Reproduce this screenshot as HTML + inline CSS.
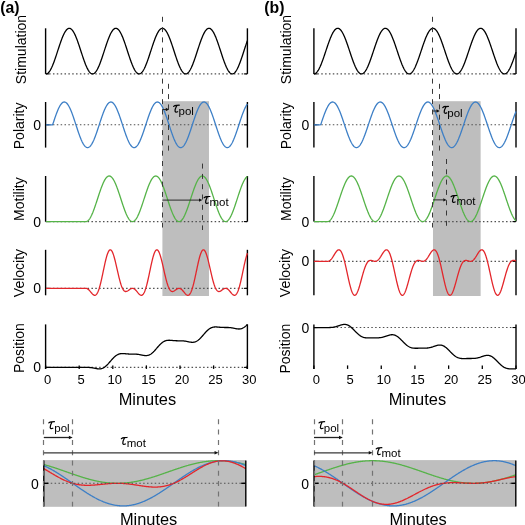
<!DOCTYPE html>
<html><head><meta charset="utf-8"><style>
html,body{margin:0;padding:0;background:#fff;}
svg{display:block;will-change:transform;}
text{font-family:"Liberation Sans", sans-serif;fill:#000;}
</style></head><body>
<svg width="525" height="525" viewBox="0 0 525 525">
<rect width="525" height="525" fill="#fff"/>
<rect x="162.41" y="101.2" width="46.56" height="194.8" fill="#bebebe"/>
<line x1="49.1" y1="73.9" x2="247.4" y2="73.9" stroke="#505050" stroke-width="1.1" stroke-dasharray="1.5 2.35"/>
<line x1="45.6" y1="28.3" x2="45.6" y2="73.9" stroke="#000" stroke-width="1.4" />
<line x1="247.4" y1="28.3" x2="247.4" y2="73.9" stroke="#000" stroke-width="1.4" />
<line x1="243.9" y1="73.9" x2="247.4" y2="73.9" stroke="#000" stroke-width="1.1" />
<line x1="45.6" y1="73.9" x2="49.1" y2="73.9" stroke="#000" stroke-width="1.1" />
<path d="M46 73.9 L46.4 73.87 L46.81 73.76 L47.21 73.6 L47.61 73.36 L48.02 73.06 L48.42 72.69 L48.83 72.26 L49.23 71.77 L49.63 71.22 L50.04 70.6 L50.44 69.93 L50.84 69.2 L51.25 68.42 L51.65 67.59 L52.05 66.71 L52.46 65.78 L52.86 64.81 L53.26 63.79 L53.67 62.74 L54.07 61.66 L54.48 60.54 L54.88 59.4 L55.28 58.23 L55.69 57.04 L56.09 55.84 L56.49 54.62 L56.9 53.38 L57.3 52.15 L57.7 50.9 L58.11 49.66 L58.51 48.43 L58.92 47.2 L59.32 45.98 L59.72 44.78 L60.13 43.6 L60.53 42.44 L60.93 41.3 L61.34 40.19 L61.74 39.12 L62.14 38.08 L62.55 37.08 L62.95 36.12 L63.36 35.21 L63.76 34.34 L64.16 33.53 L64.57 32.76 L64.97 32.05 L65.37 31.4 L65.78 30.8 L66.18 30.27 L66.58 29.79 L66.99 29.38 L67.39 29.04 L67.79 28.76 L68.2 28.54 L68.6 28.4 L69.01 28.32 L69.41 28.3 L69.81 28.36 L70.22 28.48 L70.62 28.67 L71.02 28.93 L71.43 29.25 L71.83 29.64 L72.23 30.09 L72.64 30.6 L73.04 31.17 L73.45 31.8 L73.85 32.49 L74.25 33.24 L74.66 34.04 L75.06 34.89 L75.46 35.78 L75.87 36.72 L76.27 37.71 L76.67 38.73 L77.08 39.79 L77.48 40.89 L77.88 42.01 L78.29 43.16 L78.69 44.34 L79.1 45.54 L79.5 46.75 L79.9 47.97 L80.31 49.21 L80.71 50.45 L81.11 51.69 L81.52 52.93 L81.92 54.16 L82.32 55.39 L82.73 56.6 L83.13 57.8 L83.54 58.97 L83.94 60.13 L84.34 61.25 L84.75 62.35 L85.15 63.41 L85.55 64.44 L85.96 65.42 L86.36 66.37 L86.76 67.27 L87.17 68.12 L87.57 68.92 L87.98 69.67 L88.38 70.36 L88.78 71 L89.19 71.57 L89.59 72.09 L89.99 72.54 L90.4 72.93 L90.8 73.26 L91.2 73.52 L91.61 73.71 L92.01 73.84 L92.41 73.9 L92.82 73.89 L93.22 73.81 L93.63 73.67 L94.03 73.46 L94.43 73.18 L94.84 72.84 L95.24 72.43 L95.64 71.96 L96.05 71.43 L96.45 70.84 L96.85 70.18 L97.26 69.48 L97.66 68.72 L98.07 67.9 L98.47 67.04 L98.87 66.13 L99.28 65.17 L99.68 64.17 L100.08 63.14 L100.49 62.06 L100.89 60.96 L101.29 59.83 L101.7 58.67 L102.1 57.49 L102.51 56.28 L102.91 55.07 L103.31 53.84 L103.72 52.6 L104.12 51.36 L104.52 50.12 L104.93 48.88 L105.33 47.65 L105.73 46.43 L106.14 45.22 L106.54 44.03 L106.94 42.86 L107.35 41.72 L107.75 40.6 L108.16 39.51 L108.56 38.46 L108.96 37.45 L109.37 36.47 L109.77 35.54 L110.17 34.66 L110.58 33.82 L110.98 33.04 L111.38 32.31 L111.79 31.63 L112.19 31.02 L112.6 30.46 L113 29.96 L113.4 29.53 L113.81 29.16 L114.21 28.85 L114.61 28.61 L115.02 28.44 L115.42 28.34 L115.82 28.3 L116.23 28.33 L116.63 28.43 L117.03 28.59 L117.44 28.82 L117.84 29.12 L118.25 29.48 L118.65 29.91 L119.05 30.4 L119.46 30.95 L119.86 31.56 L120.26 32.23 L120.67 32.96 L121.07 33.74 L121.47 34.57 L121.88 35.44 L122.28 36.37 L122.69 37.34 L123.09 38.35 L123.49 39.4 L123.9 40.48 L124.3 41.59 L124.7 42.74 L125.11 43.9 L125.51 45.09 L125.91 46.3 L126.32 47.52 L126.72 48.75 L127.13 49.99 L127.53 51.23 L127.93 52.47 L128.34 53.71 L128.74 54.94 L129.14 56.15 L129.55 57.36 L129.95 58.54 L130.35 59.7 L130.76 60.84 L131.16 61.95 L131.56 63.02 L131.97 64.06 L132.37 65.06 L132.78 66.02 L133.18 66.94 L133.58 67.81 L133.99 68.63 L134.39 69.4 L134.79 70.11 L135.2 70.77 L135.6 71.37 L136 71.9 L136.41 72.38 L136.81 72.8 L137.22 73.14 L137.62 73.43 L138.02 73.65 L138.43 73.8 L138.83 73.88 L139.23 73.9 L139.64 73.85 L140.04 73.73 L140.44 73.54 L140.85 73.29 L141.25 72.97 L141.65 72.59 L142.06 72.14 L142.46 71.63 L142.87 71.06 L143.27 70.43 L143.67 69.75 L144.08 69 L144.48 68.21 L144.88 67.36 L145.29 66.47 L145.69 65.53 L146.09 64.55 L146.5 63.52 L146.9 62.46 L147.31 61.37 L147.71 60.25 L148.11 59.1 L148.52 57.92 L148.92 56.73 L149.32 55.52 L149.73 54.3 L150.13 53.06 L150.53 51.82 L150.94 50.58 L151.34 49.34 L151.75 48.11 L152.15 46.88 L152.55 45.67 L152.96 44.47 L153.36 43.29 L153.76 42.14 L154.17 41.01 L154.57 39.91 L154.97 38.85 L155.38 37.82 L155.78 36.83 L156.18 35.88 L156.59 34.98 L156.99 34.13 L157.4 33.32 L157.8 32.57 L158.2 31.88 L158.61 31.24 L159.01 30.66 L159.41 30.14 L159.82 29.68 L160.22 29.29 L160.62 28.96 L161.03 28.7 L161.43 28.5 L161.84 28.37 L162.24 28.31 L162.64 28.31 L163.05 28.38 L163.45 28.52 L163.85 28.73 L164.26 29 L164.66 29.34 L165.06 29.75 L165.47 30.21 L165.87 30.74 L166.27 31.33 L166.68 31.98 L167.08 32.68 L167.49 33.44 L167.89 34.25 L168.29 35.11 L168.7 36.02 L169.1 36.98 L169.5 37.97 L169.91 39.01 L170.31 40.08 L170.71 41.18 L171.12 42.31 L171.52 43.47 L171.93 44.65 L172.33 45.85 L172.73 47.07 L173.14 48.29 L173.54 49.53 L173.94 50.77 L174.35 52.01 L174.75 53.25 L175.15 54.48 L175.56 55.7 L175.96 56.91 L176.37 58.1 L176.77 59.28 L177.17 60.42 L177.58 61.54 L177.98 62.63 L178.38 63.68 L178.79 64.7 L179.19 65.67 L179.59 66.61 L180 67.49 L180.4 68.33 L180.8 69.12 L181.21 69.85 L181.61 70.53 L182.02 71.15 L182.42 71.71 L182.82 72.21 L183.23 72.65 L183.63 73.02 L184.03 73.33 L184.44 73.57 L184.84 73.75 L185.24 73.86 L185.65 73.9 L186.05 73.87 L186.46 73.78 L186.86 73.62 L187.26 73.39 L187.67 73.1 L188.07 72.74 L188.47 72.31 L188.88 71.83 L189.28 71.28 L189.68 70.67 L190.09 70.01 L190.49 69.28 L190.89 68.51 L191.3 67.68 L191.7 66.8 L192.11 65.88 L192.51 64.91 L192.91 63.91 L193.32 62.86 L193.72 61.78 L194.12 60.67 L194.53 59.53 L194.93 58.36 L195.33 57.17 L195.74 55.97 L196.14 54.75 L196.55 53.52 L196.95 52.28 L197.35 51.04 L197.76 49.8 L198.16 48.56 L198.56 47.33 L198.97 46.11 L199.37 44.91 L199.77 43.72 L200.18 42.56 L200.58 41.42 L200.99 40.31 L201.39 39.24 L201.79 38.19 L202.2 37.19 L202.6 36.23 L203 35.31 L203.41 34.44 L203.81 33.61 L204.21 32.84 L204.62 32.13 L205.02 31.47 L205.42 30.87 L205.83 30.32 L206.23 29.84 L206.64 29.43 L207.04 29.07 L207.44 28.78 L207.85 28.56 L208.25 28.41 L208.65 28.32 L209.06 28.3 L209.46 28.35 L209.86 28.46 L210.27 28.65 L210.67 28.9 L211.08 29.21 L211.48 29.59 L211.88 30.03 L212.29 30.54 L212.69 31.11 L213.09 31.73 L213.5 32.42 L213.9 33.16 L214.3 33.95 L214.71 34.79 L215.11 35.68 L215.52 36.62 L215.92 37.6 L216.32 38.62 L216.73 39.68 L217.13 40.77 L217.53 41.89 L217.94 43.04 L218.34 44.21 L218.74 45.4 L219.15 46.61 L219.55 47.84 L219.95 49.07 L220.36 50.31 L220.76 51.55 L221.17 52.79 L221.57 54.03 L221.97 55.25 L222.38 56.47 L222.78 57.67 L223.18 58.85 L223.59 60 L223.99 61.13 L224.39 62.23 L224.8 63.3 L225.2 64.33 L225.61 65.32 L226.01 66.27 L226.41 67.17 L226.82 68.03 L227.22 68.83 L227.62 69.59 L228.03 70.29 L228.43 70.93 L228.83 71.51 L229.24 72.03 L229.64 72.5 L230.04 72.89 L230.45 73.23 L230.85 73.49 L231.26 73.69 L231.66 73.83 L232.06 73.89 L232.47 73.89 L232.87 73.82 L233.27 73.69 L233.68 73.48 L234.08 73.21 L234.48 72.88 L234.89 72.48 L235.29 72.01 L235.7 71.49 L236.1 70.9 L236.5 70.26 L236.91 69.56 L237.31 68.8 L237.71 67.99 L238.12 67.13 L238.52 66.23 L238.92 65.28 L239.33 64.28 L239.73 63.25 L240.14 62.18 L240.54 61.08 L240.94 59.95 L241.35 58.79 L241.75 57.61 L242.15 56.42 L242.56 55.2 L242.96 53.97 L243.36 52.74 L243.77 51.5 L244.17 50.26 L244.57 49.02 L244.98 47.78 L245.38 46.56 L245.79 45.35 L246.19 44.16 L246.59 42.99 L247 41.84 L247.4 40.72" fill="none" stroke="#000" stroke-width="1.3" stroke-linejoin="round" />
<text x="0" y="0" font-size="14" text-anchor="middle" transform="translate(25.6 49.5) rotate(-90)">Stimulation</text>
<line x1="49.1" y1="124.8" x2="247.4" y2="124.8" stroke="#505050" stroke-width="1.1" stroke-dasharray="1.5 2.35"/>
<line x1="45.6" y1="102" x2="45.6" y2="147.6" stroke="#000" stroke-width="1.4" />
<line x1="247.4" y1="102" x2="247.4" y2="147.6" stroke="#000" stroke-width="1.4" />
<line x1="243.9" y1="124.8" x2="247.4" y2="124.8" stroke="#000" stroke-width="1.1" />
<line x1="45.6" y1="124.8" x2="49.1" y2="124.8" stroke="#000" stroke-width="1.1" />
<path d="M46 124.8 L46.4 124.8 L46.81 124.8 L47.21 124.8 L47.61 124.8 L48.02 124.8 L48.42 124.8 L48.83 124.8 L49.23 124.8 L49.63 124.8 L50.04 124.8 L50.44 124.8 L50.84 124.8 L51.25 124.8 L51.65 124.8 L52.05 124.8 L52.46 124.8 L52.86 124.16 L53.26 122.92 L53.67 121.68 L54.07 120.46 L54.48 119.25 L54.88 118.05 L55.28 116.87 L55.69 115.72 L56.09 114.6 L56.49 113.5 L56.9 112.44 L57.3 111.42 L57.7 110.43 L58.11 109.49 L58.51 108.59 L58.92 107.74 L59.32 106.95 L59.72 106.2 L60.13 105.51 L60.53 104.88 L60.93 104.3 L61.34 103.79 L61.74 103.34 L62.14 102.95 L62.55 102.63 L62.95 102.37 L63.36 102.18 L63.76 102.06 L64.16 102 L64.57 102.02 L64.97 102.09 L65.37 102.24 L65.78 102.46 L66.18 102.74 L66.58 103.08 L66.99 103.49 L67.39 103.96 L67.79 104.5 L68.2 105.09 L68.6 105.75 L69.01 106.46 L69.41 107.22 L69.81 108.04 L70.22 108.9 L70.62 109.82 L71.02 110.77 L71.43 111.77 L71.83 112.81 L72.23 113.89 L72.64 114.99 L73.04 116.13 L73.45 117.29 L73.85 118.47 L74.25 119.67 L74.66 120.89 L75.06 122.12 L75.46 123.35 L75.87 124.59 L76.27 125.84 L76.67 127.07 L77.08 128.3 L77.48 129.53 L77.88 130.73 L78.29 131.92 L78.69 133.09 L79.1 134.23 L79.5 135.35 L79.9 136.44 L80.31 137.49 L80.71 138.5 L81.11 139.47 L81.52 140.4 L81.92 141.28 L82.32 142.11 L82.73 142.9 L83.13 143.62 L83.54 144.3 L83.94 144.91 L84.34 145.47 L84.75 145.96 L85.15 146.39 L85.55 146.76 L85.96 147.06 L86.36 147.29 L86.76 147.46 L87.17 147.57 L87.57 147.6 L87.98 147.57 L88.38 147.47 L88.78 147.3 L89.19 147.06 L89.59 146.76 L89.99 146.4 L90.4 145.97 L90.8 145.47 L91.2 144.92 L91.61 144.31 L92.01 143.64 L92.41 142.91 L92.82 142.13 L93.22 141.29 L93.63 140.41 L94.03 139.49 L94.43 138.51 L94.84 137.5 L95.24 136.45 L95.64 135.37 L96.05 134.25 L96.45 133.11 L96.85 131.94 L97.26 130.75 L97.66 129.55 L98.07 128.33 L98.47 127.09 L98.87 125.86 L99.28 124.61 L99.68 123.37 L100.08 122.14 L100.49 120.91 L100.89 119.69 L101.29 118.49 L101.7 117.31 L102.1 116.15 L102.51 115.01 L102.91 113.9 L103.31 112.83 L103.72 111.79 L104.12 110.79 L104.52 109.83 L104.93 108.92 L105.33 108.05 L105.73 107.23 L106.14 106.47 L106.54 105.76 L106.94 105.1 L107.35 104.51 L107.75 103.97 L108.16 103.5 L108.56 103.09 L108.96 102.74 L109.37 102.46 L109.77 102.24 L110.17 102.1 L110.58 102.02 L110.98 102 L111.38 102.06 L111.79 102.18 L112.19 102.37 L112.6 102.62 L113 102.95 L113.4 103.33 L113.81 103.78 L114.21 104.29 L114.61 104.87 L115.02 105.5 L115.42 106.19 L115.82 106.93 L116.23 107.73 L116.63 108.58 L117.03 109.47 L117.44 110.42 L117.84 111.4 L118.25 112.42 L118.65 113.48 L119.05 114.58 L119.46 115.7 L119.86 116.85 L120.26 118.03 L120.67 119.22 L121.07 120.44 L121.47 121.66 L121.88 122.9 L122.28 124.13 L122.69 125.38 L123.09 126.62 L123.49 127.85 L123.9 129.08 L124.3 130.29 L124.7 131.49 L125.11 132.66 L125.51 133.82 L125.91 134.94 L126.32 136.04 L126.72 137.1 L127.13 138.13 L127.53 139.12 L127.93 140.06 L128.34 140.96 L128.74 141.81 L129.14 142.61 L129.55 143.36 L129.95 144.05 L130.35 144.69 L130.76 145.27 L131.16 145.78 L131.56 146.24 L131.97 146.63 L132.37 146.95 L132.78 147.22 L133.18 147.41 L133.58 147.54 L133.99 147.6 L134.39 147.59 L134.79 147.51 L135.2 147.37 L135.6 147.16 L136 146.88 L136.41 146.54 L136.81 146.13 L137.22 145.66 L137.62 145.13 L138.02 144.54 L138.43 143.89 L138.83 143.18 L139.23 142.42 L139.64 141.61 L140.04 140.74 L140.44 139.83 L140.85 138.88 L141.25 137.88 L141.65 136.85 L142.06 135.77 L142.46 134.67 L142.87 133.54 L143.27 132.38 L143.67 131.2 L144.08 129.99 L144.48 128.78 L144.88 127.55 L145.29 126.31 L145.69 125.07 L146.09 123.83 L146.5 122.59 L146.9 121.36 L147.31 120.14 L147.71 118.93 L148.11 117.74 L148.52 116.57 L148.92 115.43 L149.32 114.31 L149.73 113.22 L150.13 112.17 L150.53 111.16 L150.94 110.18 L151.34 109.25 L151.75 108.37 L152.15 107.53 L152.55 106.75 L152.96 106.01 L153.36 105.34 L153.76 104.72 L154.17 104.16 L154.57 103.67 L154.97 103.23 L155.38 102.86 L155.78 102.56 L156.18 102.32 L156.59 102.14 L156.99 102.04 L157.4 102 L157.8 102.03 L158.2 102.13 L158.61 102.29 L159.01 102.52 L159.41 102.82 L159.82 103.18 L160.22 103.61 L160.62 104.1 L161.03 104.65 L161.43 105.26 L161.84 105.93 L162.24 106.65 L162.64 107.43 L163.05 108.26 L163.45 109.14 L163.85 110.06 L164.26 111.03 L164.66 112.04 L165.06 113.09 L165.47 114.17 L165.87 115.28 L166.27 116.43 L166.68 117.59 L167.08 118.78 L167.49 119.99 L167.89 121.21 L168.29 122.44 L168.7 123.68 L169.1 124.92 L169.5 126.16 L169.91 127.4 L170.31 128.62 L170.71 129.84 L171.12 131.05 L171.52 132.23 L171.93 133.39 L172.33 134.53 L172.73 135.64 L173.14 136.71 L173.54 137.75 L173.94 138.76 L174.35 139.72 L174.75 140.63 L175.15 141.5 L175.56 142.32 L175.96 143.09 L176.37 143.8 L176.77 144.46 L177.17 145.06 L177.58 145.6 L177.98 146.08 L178.38 146.49 L178.79 146.84 L179.19 147.13 L179.59 147.35 L180 147.5 L180.4 147.58 L180.8 147.6 L181.21 147.55 L181.61 147.43 L182.02 147.24 L182.42 146.99 L182.82 146.67 L183.23 146.29 L183.63 145.84 L184.03 145.34 L184.44 144.77 L184.84 144.14 L185.24 143.45 L185.65 142.71 L186.05 141.92 L186.46 141.07 L186.86 140.18 L187.26 139.24 L187.67 138.25 L188.07 137.23 L188.47 136.17 L188.88 135.08 L189.28 133.96 L189.68 132.81 L190.09 131.63 L190.49 130.44 L190.89 129.23 L191.3 128.01 L191.7 126.77 L192.11 125.53 L192.51 124.29 L192.91 123.05 L193.32 121.82 L193.72 120.59 L194.12 119.38 L194.53 118.18 L194.93 117 L195.33 115.85 L195.74 114.72 L196.14 113.62 L196.55 112.56 L196.95 111.53 L197.35 110.54 L197.76 109.59 L198.16 108.69 L198.56 107.83 L198.97 107.03 L199.37 106.28 L199.77 105.58 L200.18 104.94 L200.58 104.36 L200.99 103.84 L201.39 103.38 L201.79 102.99 L202.2 102.66 L202.6 102.4 L203 102.2 L203.41 102.07 L203.81 102.01 L204.21 102.01 L204.62 102.08 L205.02 102.22 L205.42 102.43 L205.83 102.7 L206.23 103.04 L206.64 103.44 L207.04 103.91 L207.44 104.44 L207.85 105.03 L208.25 105.67 L208.65 106.38 L209.06 107.14 L209.46 107.95 L209.86 108.81 L210.27 109.72 L210.67 110.67 L211.08 111.66 L211.48 112.7 L211.88 113.77 L212.29 114.87 L212.69 116 L213.09 117.16 L213.5 118.34 L213.9 119.54 L214.3 120.75 L214.71 121.98 L215.11 123.22 L215.52 124.46 L215.92 125.7 L216.32 126.94 L216.73 128.17 L217.13 129.39 L217.53 130.6 L217.94 131.79 L218.34 132.97 L218.74 134.11 L219.15 135.23 L219.55 136.32 L219.95 137.37 L220.36 138.39 L220.76 139.37 L221.17 140.3 L221.57 141.19 L221.97 142.03 L222.38 142.81 L222.78 143.55 L223.18 144.23 L223.59 144.85 L223.99 145.41 L224.39 145.91 L224.8 146.35 L225.2 146.72 L225.61 147.03 L226.01 147.27 L226.41 147.45 L226.82 147.56 L227.22 147.6 L227.62 147.57 L228.03 147.48 L228.43 147.32 L228.83 147.09 L229.24 146.8 L229.64 146.44 L230.04 146.02 L230.45 145.53 L230.85 144.98 L231.26 144.38 L231.66 143.71 L232.06 142.99 L232.47 142.21 L232.87 141.39 L233.27 140.51 L233.68 139.59 L234.08 138.62 L234.48 137.62 L234.89 136.57 L235.29 135.49 L235.7 134.38 L236.1 133.24 L236.5 132.07 L236.91 130.88 L237.31 129.68 L237.71 128.46 L238.12 127.23 L238.52 125.99 L238.92 124.75 L239.33 123.51 L239.73 122.27 L240.14 121.04 L240.54 119.82 L240.94 118.62 L241.35 117.43 L241.75 116.27 L242.15 115.13 L242.56 114.02 L242.96 112.94 L243.36 111.9 L243.77 110.9 L244.17 109.93 L244.57 109.02 L244.98 108.14 L245.38 107.32 L245.79 106.55 L246.19 105.83 L246.59 105.17 L247 104.57 L247.4 104.03" fill="none" stroke="#3d7fc6" stroke-width="1.3" stroke-linejoin="round" />
<text x="41" y="129.8" font-size="14" text-anchor="end" >0</text>
<text x="0" y="0" font-size="14" text-anchor="middle" transform="translate(23.9 125.9) rotate(-90)">Polarity</text>
<line x1="49.1" y1="221.6" x2="247.4" y2="221.6" stroke="#505050" stroke-width="1.1" stroke-dasharray="1.5 2.35"/>
<line x1="45.6" y1="176" x2="45.6" y2="221.6" stroke="#000" stroke-width="1.4" />
<line x1="247.4" y1="176" x2="247.4" y2="221.6" stroke="#000" stroke-width="1.4" />
<line x1="243.9" y1="221.6" x2="247.4" y2="221.6" stroke="#000" stroke-width="1.1" />
<line x1="45.6" y1="221.6" x2="49.1" y2="221.6" stroke="#000" stroke-width="1.1" />
<path d="M46 221.6 L46.4 221.6 L46.81 221.6 L47.21 221.6 L47.61 221.6 L48.02 221.6 L48.42 221.6 L48.83 221.6 L49.23 221.6 L49.63 221.6 L50.04 221.6 L50.44 221.6 L50.84 221.6 L51.25 221.6 L51.65 221.6 L52.05 221.6 L52.46 221.6 L52.86 221.6 L53.26 221.6 L53.67 221.6 L54.07 221.6 L54.48 221.6 L54.88 221.6 L55.28 221.6 L55.69 221.6 L56.09 221.6 L56.49 221.6 L56.9 221.6 L57.3 221.6 L57.7 221.6 L58.11 221.6 L58.51 221.6 L58.92 221.6 L59.32 221.6 L59.72 221.6 L60.13 221.6 L60.53 221.6 L60.93 221.6 L61.34 221.6 L61.74 221.6 L62.14 221.6 L62.55 221.6 L62.95 221.6 L63.36 221.6 L63.76 221.6 L64.16 221.6 L64.57 221.6 L64.97 221.6 L65.37 221.6 L65.78 221.6 L66.18 221.6 L66.58 221.6 L66.99 221.6 L67.39 221.6 L67.79 221.6 L68.2 221.6 L68.6 221.6 L69.01 221.6 L69.41 221.6 L69.81 221.6 L70.22 221.6 L70.62 221.6 L71.02 221.6 L71.43 221.6 L71.83 221.6 L72.23 221.6 L72.64 221.6 L73.04 221.6 L73.45 221.6 L73.85 221.6 L74.25 221.6 L74.66 221.6 L75.06 221.6 L75.46 221.6 L75.87 221.6 L76.27 221.6 L76.67 221.6 L77.08 221.6 L77.48 221.6 L77.88 221.6 L78.29 221.6 L78.69 221.6 L79.1 221.6 L79.5 221.6 L79.9 221.6 L80.31 221.6 L80.71 221.6 L81.11 221.6 L81.52 221.6 L81.92 221.6 L82.32 221.6 L82.73 221.6 L83.13 221.6 L83.54 221.6 L83.94 221.6 L84.34 221.6 L84.75 221.6 L85.15 221.6 L85.55 221.6 L85.96 221.6 L86.36 221.56 L86.76 221.45 L87.17 221.27 L87.57 221.03 L87.98 220.72 L88.38 220.35 L88.78 219.91 L89.19 219.41 L89.59 218.85 L89.99 218.23 L90.4 217.55 L90.8 216.82 L91.2 216.03 L91.61 215.19 L92.01 214.3 L92.41 213.37 L92.82 212.4 L93.22 211.38 L93.63 210.33 L94.03 209.24 L94.43 208.12 L94.84 206.97 L95.24 205.8 L95.64 204.61 L96.05 203.4 L96.45 202.18 L96.85 200.95 L97.26 199.71 L97.66 198.47 L98.07 197.23 L98.47 195.99 L98.87 194.76 L99.28 193.55 L99.68 192.35 L100.08 191.17 L100.49 190.01 L100.89 188.88 L101.29 187.77 L101.7 186.7 L102.1 185.67 L102.51 184.67 L102.91 183.72 L103.31 182.81 L103.72 181.95 L104.12 181.14 L104.52 180.38 L104.93 179.68 L105.33 179.03 L105.73 178.44 L106.14 177.91 L106.54 177.45 L106.94 177.04 L107.35 176.7 L107.75 176.43 L108.16 176.22 L108.56 176.08 L108.96 176.01 L109.37 176.01 L109.77 176.07 L110.17 176.2 L110.58 176.4 L110.98 176.66 L111.38 176.99 L111.79 177.38 L112.19 177.84 L112.6 178.36 L113 178.94 L113.4 179.58 L113.81 180.27 L114.21 181.03 L114.61 181.83 L115.02 182.68 L115.42 183.58 L115.82 184.53 L116.23 185.52 L116.63 186.55 L117.03 187.61 L117.44 188.71 L117.84 189.84 L118.25 190.99 L118.65 192.17 L119.05 193.37 L119.46 194.58 L119.86 195.81 L120.26 197.04 L120.67 198.28 L121.07 199.53 L121.47 200.77 L121.88 202 L122.28 203.22 L122.69 204.43 L123.09 205.63 L123.49 206.8 L123.9 207.95 L124.3 209.08 L124.7 210.17 L125.11 211.23 L125.51 212.25 L125.91 213.23 L126.32 214.17 L126.72 215.06 L127.13 215.91 L127.53 216.71 L127.93 217.45 L128.34 218.13 L128.74 218.76 L129.14 219.33 L129.55 219.84 L129.95 220.29 L130.35 220.67 L130.76 220.99 L131.16 221.24 L131.56 221.43 L131.97 221.55 L132.37 221.6 L132.78 221.58 L133.18 221.5 L133.58 221.35 L133.99 221.13 L134.39 220.84 L134.79 220.49 L135.2 220.08 L135.6 219.6 L136 219.06 L136.41 218.47 L136.81 217.81 L137.22 217.09 L137.62 216.33 L138.02 215.51 L138.43 214.64 L138.83 213.72 L139.23 212.76 L139.64 211.76 L140.04 210.72 L140.44 209.64 L140.85 208.54 L141.25 207.4 L141.65 206.24 L142.06 205.05 L142.46 203.85 L142.87 202.63 L143.27 201.4 L143.67 200.17 L144.08 198.92 L144.48 197.68 L144.88 196.45 L145.29 195.21 L145.69 193.99 L146.09 192.79 L146.5 191.6 L146.9 190.43 L147.31 189.29 L147.71 188.18 L148.11 187.09 L148.52 186.05 L148.92 185.04 L149.32 184.07 L149.73 183.14 L150.13 182.26 L150.53 181.43 L150.94 180.65 L151.34 179.93 L151.75 179.26 L152.15 178.65 L152.55 178.1 L152.96 177.61 L153.36 177.18 L153.76 176.82 L154.17 176.52 L154.57 176.29 L154.97 176.13 L155.38 176.03 L155.78 176 L156.18 176.04 L156.59 176.14 L156.99 176.32 L157.4 176.55 L157.8 176.86 L158.2 177.23 L158.61 177.66 L159.01 178.16 L159.41 178.72 L159.82 179.34 L160.22 180.01 L160.62 180.74 L161.03 181.53 L161.43 182.36 L161.84 183.25 L162.24 184.18 L162.64 185.15 L163.05 186.16 L163.45 187.22 L163.85 188.3 L164.26 189.42 L164.66 190.57 L165.06 191.73 L165.47 192.93 L165.87 194.13 L166.27 195.36 L166.68 196.59 L167.08 197.83 L167.49 199.07 L167.89 200.31 L168.29 201.54 L168.7 202.77 L169.1 203.99 L169.5 205.19 L169.91 206.37 L170.31 207.53 L170.71 208.66 L171.12 209.77 L171.52 210.84 L171.93 211.88 L172.33 212.87 L172.73 213.83 L173.14 214.74 L173.54 215.6 L173.94 216.42 L174.35 217.18 L174.75 217.89 L175.15 218.54 L175.56 219.13 L175.96 219.66 L176.37 220.13 L176.77 220.54 L177.17 220.88 L177.58 221.16 L177.98 221.37 L178.38 221.51 L178.79 221.59 L179.19 221.6 L179.59 221.54 L180 221.41 L180.4 221.22 L180.8 220.96 L181.21 220.63 L181.61 220.24 L182.02 219.79 L182.42 219.27 L182.82 218.69 L183.23 218.06 L183.63 217.36 L184.03 216.62 L184.44 215.82 L184.84 214.96 L185.24 214.07 L185.65 213.12 L186.05 212.13 L186.46 211.11 L186.86 210.04 L187.26 208.95 L187.67 207.82 L188.07 206.67 L188.47 205.49 L188.88 204.3 L189.28 203.08 L189.68 201.86 L190.09 200.62 L190.49 199.38 L190.89 198.14 L191.3 196.9 L191.7 195.67 L192.11 194.44 L192.51 193.23 L192.91 192.04 L193.32 190.86 L193.72 189.71 L194.12 188.58 L194.53 187.49 L194.93 186.43 L195.33 185.41 L195.74 184.42 L196.14 183.48 L196.55 182.58 L196.95 181.73 L197.35 180.94 L197.76 180.19 L198.16 179.5 L198.56 178.87 L198.97 178.3 L199.37 177.78 L199.77 177.33 L200.18 176.95 L200.58 176.63 L200.99 176.37 L201.39 176.18 L201.79 176.06 L202.2 176 L202.6 176.02 L203 176.1 L203.41 176.24 L203.81 176.46 L204.21 176.74 L204.62 177.09 L205.02 177.5 L205.42 177.97 L205.83 178.5 L206.23 179.1 L206.64 179.75 L207.04 180.47 L207.44 181.23 L207.85 182.05 L208.25 182.91 L208.65 183.83 L209.06 184.79 L209.46 185.79 L209.86 186.82 L210.27 187.9 L210.67 189 L211.08 190.14 L211.48 191.3 L211.88 192.48 L212.29 193.69 L212.69 194.9 L213.09 196.13 L213.5 197.37 L213.9 198.61 L214.3 199.85 L214.71 201.09 L215.11 202.32 L215.52 203.54 L215.92 204.75 L216.32 205.94 L216.73 207.1 L217.13 208.25 L217.53 209.36 L217.94 210.45 L218.34 211.5 L218.74 212.51 L219.15 213.48 L219.55 214.41 L219.95 215.29 L220.36 216.12 L220.76 216.9 L221.17 217.63 L221.57 218.3 L221.97 218.92 L222.38 219.47 L222.78 219.96 L223.18 220.39 L223.59 220.76 L223.99 221.06 L224.39 221.3 L224.8 221.47 L225.2 221.57 L225.61 221.6 L226.01 221.57 L226.41 221.46 L226.82 221.3 L227.22 221.06 L227.62 220.76 L228.03 220.39 L228.43 219.96 L228.83 219.47 L229.24 218.91 L229.64 218.3 L230.04 217.63 L230.45 216.9 L230.85 216.12 L231.26 215.29 L231.66 214.4 L232.06 213.48 L232.47 212.5 L232.87 211.49 L233.27 210.44 L233.68 209.36 L234.08 208.24 L234.48 207.1 L234.89 205.93 L235.29 204.74 L235.7 203.53 L236.1 202.31 L236.5 201.08 L236.91 199.84 L237.31 198.6 L237.71 197.36 L238.12 196.12 L238.52 194.89 L238.92 193.68 L239.33 192.48 L239.73 191.29 L240.14 190.13 L240.54 189 L240.94 187.89 L241.35 186.82 L241.75 185.78 L242.15 184.78 L242.56 183.82 L242.96 182.91 L243.36 182.04 L243.77 181.23 L244.17 180.46 L244.57 179.75 L244.98 179.1 L245.38 178.5 L245.79 177.97 L246.19 177.49 L246.59 177.08 L247 176.74 L247.4 176.46" fill="none" stroke="#55b348" stroke-width="1.3" stroke-linejoin="round" />
<text x="41" y="226.6" font-size="14" text-anchor="end" >0</text>
<text x="0" y="0" font-size="14" text-anchor="middle" transform="translate(23.9 199.1) rotate(-90)">Motility</text>
<line x1="49.1" y1="288.35" x2="247.4" y2="288.35" stroke="#505050" stroke-width="1.1" stroke-dasharray="1.5 2.35"/>
<line x1="45.6" y1="249.8" x2="45.6" y2="295.3" stroke="#000" stroke-width="1.4" />
<line x1="247.4" y1="249.8" x2="247.4" y2="295.3" stroke="#000" stroke-width="1.4" />
<line x1="243.9" y1="288.35" x2="247.4" y2="288.35" stroke="#000" stroke-width="1.1" />
<line x1="45.6" y1="288.35" x2="49.1" y2="288.35" stroke="#000" stroke-width="1.1" />
<path d="M46 288.35 L46.4 288.35 L46.81 288.35 L47.21 288.35 L47.61 288.35 L48.02 288.35 L48.42 288.35 L48.83 288.35 L49.23 288.35 L49.63 288.35 L50.04 288.35 L50.44 288.35 L50.84 288.35 L51.25 288.35 L51.65 288.35 L52.05 288.35 L52.46 288.35 L52.86 288.35 L53.26 288.35 L53.67 288.35 L54.07 288.35 L54.48 288.35 L54.88 288.35 L55.28 288.35 L55.69 288.35 L56.09 288.35 L56.49 288.35 L56.9 288.35 L57.3 288.35 L57.7 288.35 L58.11 288.35 L58.51 288.35 L58.92 288.35 L59.32 288.35 L59.72 288.35 L60.13 288.35 L60.53 288.35 L60.93 288.35 L61.34 288.35 L61.74 288.35 L62.14 288.35 L62.55 288.35 L62.95 288.35 L63.36 288.35 L63.76 288.35 L64.16 288.35 L64.57 288.35 L64.97 288.35 L65.37 288.35 L65.78 288.35 L66.18 288.35 L66.58 288.35 L66.99 288.35 L67.39 288.35 L67.79 288.35 L68.2 288.35 L68.6 288.35 L69.01 288.35 L69.41 288.35 L69.81 288.35 L70.22 288.35 L70.62 288.35 L71.02 288.35 L71.43 288.35 L71.83 288.35 L72.23 288.35 L72.64 288.35 L73.04 288.35 L73.45 288.35 L73.85 288.35 L74.25 288.35 L74.66 288.35 L75.06 288.35 L75.46 288.35 L75.87 288.35 L76.27 288.35 L76.67 288.35 L77.08 288.35 L77.48 288.35 L77.88 288.35 L78.29 288.35 L78.69 288.35 L79.1 288.35 L79.5 288.35 L79.9 288.35 L80.31 288.35 L80.71 288.35 L81.11 288.35 L81.52 288.35 L81.92 288.35 L82.32 288.35 L82.73 288.35 L83.13 288.35 L83.54 288.35 L83.94 288.35 L84.34 288.35 L84.75 288.35 L85.15 288.35 L85.55 288.35 L85.96 288.35 L86.36 288.39 L86.76 288.48 L87.17 288.63 L87.57 288.84 L87.98 289.1 L88.38 289.41 L88.78 289.77 L89.19 290.17 L89.59 290.61 L89.99 291.07 L90.4 291.56 L90.8 292.05 L91.2 292.54 L91.61 293.03 L92.01 293.49 L92.41 293.92 L92.82 294.31 L93.22 294.65 L93.63 294.93 L94.03 295.14 L94.43 295.26 L94.84 295.3 L95.24 295.24 L95.64 295.07 L96.05 294.78 L96.45 294.39 L96.85 293.87 L97.26 293.22 L97.66 292.46 L98.07 291.56 L98.47 290.55 L98.87 289.41 L99.28 288.16 L99.68 286.79 L100.08 285.32 L100.49 283.75 L100.89 282.1 L101.29 280.37 L101.7 278.57 L102.1 276.72 L102.51 274.83 L102.91 272.92 L103.31 270.99 L103.72 269.06 L104.12 267.16 L104.52 265.28 L104.93 263.45 L105.33 261.69 L105.73 260 L106.14 258.41 L106.54 256.91 L106.94 255.53 L107.35 254.28 L107.75 253.17 L108.16 252.21 L108.56 251.4 L108.96 250.75 L109.37 250.26 L109.77 249.95 L110.17 249.81 L110.58 249.84 L110.98 250.04 L111.38 250.41 L111.79 250.95 L112.19 251.65 L112.6 252.5 L113 253.49 L113.4 254.62 L113.81 255.87 L114.21 257.24 L114.61 258.71 L115.02 260.26 L115.42 261.89 L115.82 263.58 L116.23 265.32 L116.63 267.09 L117.03 268.87 L117.44 270.66 L117.84 272.44 L118.25 274.19 L118.65 275.9 L119.05 277.56 L119.46 279.16 L119.86 280.69 L120.26 282.13 L120.67 283.49 L121.07 284.75 L121.47 285.91 L121.88 286.95 L122.28 287.89 L122.69 288.72 L123.09 289.44 L123.49 290.04 L123.9 290.53 L124.3 290.92 L124.7 291.21 L125.11 291.4 L125.51 291.5 L125.91 291.52 L126.32 291.47 L126.72 291.36 L127.13 291.19 L127.53 290.97 L127.93 290.72 L128.34 290.45 L128.74 290.16 L129.14 289.86 L129.55 289.57 L129.95 289.29 L130.35 289.04 L130.76 288.82 L131.16 288.63 L131.56 288.49 L131.97 288.39 L132.37 288.35 L132.78 288.37 L133.18 288.44 L133.58 288.57 L133.99 288.75 L134.39 288.99 L134.79 289.29 L135.2 289.63 L135.6 290.02 L136 290.44 L136.41 290.9 L136.81 291.38 L137.22 291.87 L137.62 292.36 L138.02 292.85 L138.43 293.32 L138.83 293.77 L139.23 294.17 L139.64 294.54 L140.04 294.84 L140.44 295.07 L140.85 295.23 L141.25 295.3 L141.65 295.27 L142.06 295.14 L142.46 294.9 L142.87 294.55 L143.27 294.07 L143.67 293.48 L144.08 292.76 L144.48 291.91 L144.88 290.94 L145.29 289.84 L145.69 288.63 L146.09 287.31 L146.5 285.88 L146.9 284.34 L147.31 282.72 L147.71 281.02 L148.11 279.24 L148.52 277.41 L148.92 275.54 L149.32 273.63 L149.73 271.7 L150.13 269.77 L150.53 267.86 L150.94 265.97 L151.34 264.12 L151.75 262.33 L152.15 260.62 L152.55 258.98 L152.96 257.45 L153.36 256.03 L153.76 254.73 L154.17 253.57 L154.57 252.55 L154.97 251.68 L155.38 250.97 L155.78 250.42 L156.18 250.05 L156.59 249.84 L156.99 249.81 L157.4 249.95 L157.8 250.26 L158.2 250.73 L158.61 251.37 L159.01 252.16 L159.41 253.11 L159.82 254.19 L160.22 255.39 L160.62 256.72 L161.03 258.15 L161.43 259.68 L161.84 261.28 L162.24 262.95 L162.64 264.67 L163.05 266.43 L163.45 268.21 L163.85 270 L164.26 271.78 L164.66 273.54 L165.06 275.27 L165.47 276.95 L165.87 278.58 L166.27 280.13 L166.68 281.61 L167.08 283 L167.49 284.3 L167.89 285.49 L168.29 286.58 L168.7 287.56 L169.1 288.43 L169.5 289.18 L169.91 289.83 L170.31 290.36 L170.71 290.79 L171.12 291.11 L171.52 291.34 L171.93 291.47 L172.33 291.53 L172.73 291.5 L173.14 291.41 L173.54 291.25 L173.94 291.05 L174.35 290.82 L174.75 290.55 L175.15 290.26 L175.56 289.97 L175.96 289.68 L176.37 289.39 L176.77 289.13 L177.17 288.9 L177.58 288.7 L177.98 288.54 L178.38 288.42 L178.79 288.36 L179.19 288.35 L179.59 288.4 L180 288.51 L180.4 288.68 L180.8 288.9 L181.21 289.17 L181.61 289.5 L182.02 289.87 L182.42 290.28 L182.82 290.73 L183.23 291.2 L183.63 291.68 L184.03 292.18 L184.44 292.67 L184.84 293.15 L185.24 293.61 L185.65 294.03 L186.05 294.41 L186.46 294.73 L186.86 294.99 L187.26 295.18 L187.67 295.28 L188.07 295.29 L188.47 295.2 L188.88 295 L189.28 294.69 L189.68 294.26 L190.09 293.71 L190.49 293.04 L190.89 292.24 L191.3 291.31 L191.7 290.26 L192.11 289.09 L192.51 287.81 L192.91 286.42 L193.32 284.92 L193.72 283.33 L194.12 281.66 L194.53 279.91 L194.93 278.09 L195.33 276.23 L195.74 274.34 L196.14 272.41 L196.55 270.49 L196.95 268.56 L197.35 266.66 L197.76 264.8 L198.16 262.99 L198.56 261.24 L198.97 259.58 L199.37 258.01 L199.77 256.54 L200.18 255.2 L200.58 253.98 L200.99 252.91 L201.39 251.98 L201.79 251.21 L202.2 250.6 L202.6 250.17 L203 249.9 L203.41 249.8 L203.81 249.88 L204.21 250.12 L204.62 250.54 L205.02 251.12 L205.42 251.85 L205.83 252.74 L206.23 253.77 L206.64 254.93 L207.04 256.22 L207.44 257.61 L207.85 259.1 L208.25 260.68 L208.65 262.33 L209.06 264.03 L209.46 265.78 L209.86 267.55 L210.27 269.34 L210.67 271.13 L211.08 272.9 L211.48 274.64 L211.88 276.34 L212.29 277.98 L212.69 279.57 L213.09 281.07 L213.5 282.5 L213.9 283.83 L214.3 285.06 L214.71 286.19 L215.11 287.21 L215.52 288.12 L215.92 288.92 L216.32 289.6 L216.73 290.18 L217.13 290.64 L217.53 291.01 L217.94 291.27 L218.34 291.44 L218.74 291.52 L219.15 291.52 L219.55 291.45 L219.95 291.32 L220.36 291.13 L220.76 290.91 L221.17 290.65 L221.57 290.37 L221.97 290.08 L222.38 289.78 L222.78 289.5 L223.18 289.23 L223.59 288.98 L223.99 288.77 L224.39 288.59 L224.8 288.46 L225.2 288.38 L225.61 288.35 L226.01 288.38 L226.41 288.47 L226.82 288.61 L227.22 288.81 L227.62 289.07 L228.03 289.37 L228.43 289.73 L228.83 290.13 L229.24 290.56 L229.64 291.02 L230.04 291.5 L230.45 291.99 L230.85 292.49 L231.26 292.97 L231.66 293.44 L232.06 293.88 L232.47 294.27 L232.87 294.62 L233.27 294.91 L233.68 295.12 L234.08 295.26 L234.48 295.3 L234.89 295.25 L235.29 295.09 L235.7 294.82 L236.1 294.44 L236.5 293.93 L236.91 293.3 L237.31 292.55 L237.71 291.67 L238.12 290.66 L238.52 289.54 L238.92 288.3 L239.33 286.94 L239.73 285.49 L240.14 283.93 L240.54 282.28 L240.94 280.56 L241.35 278.77 L241.75 276.93 L242.15 275.04 L242.56 273.13 L242.96 271.2 L243.36 269.27 L243.77 267.36 L244.17 265.48 L244.57 263.65 L244.98 261.88 L245.38 260.18 L245.79 258.57 L246.19 257.07 L246.59 255.68 L247 254.41 L247.4 253.29" fill="none" stroke="#e3262b" stroke-width="1.3" stroke-linejoin="round" />
<text x="41" y="293.35" font-size="14" text-anchor="end" >0</text>
<text x="0" y="0" font-size="14" text-anchor="middle" transform="translate(23.9 273.05) rotate(-90)">Velocity</text>
<line x1="49.1" y1="367.39" x2="247.4" y2="367.39" stroke="#505050" stroke-width="1.1" stroke-dasharray="1.5 2.35"/>
<line x1="45.6" y1="324.4" x2="45.6" y2="368.9" stroke="#000" stroke-width="1.4" />
<line x1="247.4" y1="324.4" x2="247.4" y2="368.9" stroke="#000" stroke-width="1.4" />
<line x1="243.9" y1="367.39" x2="247.4" y2="367.39" stroke="#000" stroke-width="1.1" />
<line x1="45.6" y1="367.39" x2="49.1" y2="367.39" stroke="#000" stroke-width="1.1" />
<path d="M46 367.39 L46.4 367.39 L46.81 367.39 L47.21 367.39 L47.61 367.39 L48.02 367.39 L48.42 367.39 L48.83 367.39 L49.23 367.39 L49.63 367.39 L50.04 367.39 L50.44 367.39 L50.84 367.39 L51.25 367.39 L51.65 367.39 L52.05 367.39 L52.46 367.39 L52.86 367.39 L53.26 367.39 L53.67 367.39 L54.07 367.39 L54.48 367.39 L54.88 367.39 L55.28 367.39 L55.69 367.39 L56.09 367.39 L56.49 367.39 L56.9 367.39 L57.3 367.39 L57.7 367.39 L58.11 367.39 L58.51 367.39 L58.92 367.39 L59.32 367.39 L59.72 367.39 L60.13 367.39 L60.53 367.39 L60.93 367.39 L61.34 367.39 L61.74 367.39 L62.14 367.39 L62.55 367.39 L62.95 367.39 L63.36 367.39 L63.76 367.39 L64.16 367.39 L64.57 367.39 L64.97 367.39 L65.37 367.39 L65.78 367.39 L66.18 367.39 L66.58 367.39 L66.99 367.39 L67.39 367.39 L67.79 367.39 L68.2 367.39 L68.6 367.39 L69.01 367.39 L69.41 367.39 L69.81 367.39 L70.22 367.39 L70.62 367.39 L71.02 367.39 L71.43 367.39 L71.83 367.39 L72.23 367.39 L72.64 367.39 L73.04 367.39 L73.45 367.39 L73.85 367.39 L74.25 367.39 L74.66 367.39 L75.06 367.39 L75.46 367.39 L75.87 367.39 L76.27 367.39 L76.67 367.39 L77.08 367.39 L77.48 367.39 L77.88 367.39 L78.29 367.39 L78.69 367.39 L79.1 367.39 L79.5 367.39 L79.9 367.39 L80.31 367.39 L80.71 367.39 L81.11 367.39 L81.52 367.39 L81.92 367.39 L82.32 367.39 L82.73 367.39 L83.13 367.39 L83.54 367.39 L83.94 367.39 L84.34 367.39 L84.75 367.39 L85.15 367.39 L85.55 367.39 L85.96 367.39 L86.36 367.39 L86.76 367.39 L87.17 367.39 L87.57 367.4 L87.98 367.41 L88.38 367.42 L88.78 367.43 L89.19 367.45 L89.59 367.48 L89.99 367.51 L90.4 367.54 L90.8 367.59 L91.2 367.63 L91.61 367.69 L92.01 367.75 L92.41 367.81 L92.82 367.88 L93.22 367.96 L93.63 368.04 L94.03 368.12 L94.43 368.2 L94.84 368.29 L95.24 368.37 L95.64 368.45 L96.05 368.53 L96.45 368.61 L96.85 368.68 L97.26 368.74 L97.66 368.8 L98.07 368.84 L98.47 368.87 L98.87 368.89 L99.28 368.9 L99.68 368.89 L100.08 368.86 L100.49 368.81 L100.89 368.75 L101.29 368.66 L101.7 368.55 L102.1 368.42 L102.51 368.27 L102.91 368.09 L103.31 367.89 L103.72 367.67 L104.12 367.42 L104.52 367.15 L104.93 366.86 L105.33 366.55 L105.73 366.21 L106.14 365.86 L106.54 365.48 L106.94 365.09 L107.35 364.69 L107.75 364.26 L108.16 363.83 L108.56 363.39 L108.96 362.93 L109.37 362.47 L109.77 362.01 L110.17 361.54 L110.58 361.07 L110.98 360.6 L111.38 360.14 L111.79 359.68 L112.19 359.23 L112.6 358.78 L113 358.35 L113.4 357.94 L113.81 357.53 L114.21 357.15 L114.61 356.78 L115.02 356.43 L115.42 356.09 L115.82 355.78 L116.23 355.49 L116.63 355.22 L117.03 354.98 L117.44 354.75 L117.84 354.55 L118.25 354.36 L118.65 354.2 L119.05 354.06 L119.46 353.94 L119.86 353.84 L120.26 353.75 L120.67 353.68 L121.07 353.63 L121.47 353.6 L121.88 353.57 L122.28 353.56 L122.69 353.56 L123.09 353.57 L123.49 353.59 L123.9 353.61 L124.3 353.64 L124.7 353.67 L125.11 353.71 L125.51 353.75 L125.91 353.79 L126.32 353.82 L126.72 353.86 L127.13 353.9 L127.53 353.93 L127.93 353.96 L128.34 353.99 L128.74 354.01 L129.14 354.03 L129.55 354.05 L129.95 354.06 L130.35 354.07 L130.76 354.08 L131.16 354.08 L131.56 354.09 L131.97 354.09 L132.37 354.09 L132.78 354.09 L133.18 354.09 L133.58 354.09 L133.99 354.09 L134.39 354.1 L134.79 354.11 L135.2 354.12 L135.6 354.14 L136 354.16 L136.41 354.19 L136.81 354.23 L137.22 354.27 L137.62 354.31 L138.02 354.36 L138.43 354.42 L138.83 354.48 L139.23 354.55 L139.64 354.63 L140.04 354.7 L140.44 354.78 L140.85 354.87 L141.25 354.95 L141.65 355.04 L142.06 355.12 L142.46 355.2 L142.87 355.28 L143.27 355.35 L143.67 355.42 L144.08 355.47 L144.48 355.52 L144.88 355.56 L145.29 355.59 L145.69 355.6 L146.09 355.59 L146.5 355.57 L146.9 355.53 L147.31 355.47 L147.71 355.39 L148.11 355.29 L148.52 355.17 L148.92 355.03 L149.32 354.86 L149.73 354.67 L150.13 354.45 L150.53 354.21 L150.94 353.95 L151.34 353.67 L151.75 353.36 L152.15 353.04 L152.55 352.69 L152.96 352.32 L153.36 351.94 L153.76 351.53 L154.17 351.12 L154.57 350.69 L154.97 350.25 L155.38 349.8 L155.78 349.34 L156.18 348.87 L156.59 348.41 L156.99 347.94 L157.4 347.47 L157.8 347 L158.2 346.54 L158.61 346.09 L159.01 345.64 L159.41 345.21 L159.82 344.79 L160.22 344.38 L160.62 343.98 L161.03 343.61 L161.43 343.25 L161.84 342.91 L162.24 342.59 L162.64 342.29 L163.05 342.02 L163.45 341.76 L163.85 341.53 L164.26 341.31 L164.66 341.12 L165.06 340.95 L165.47 340.81 L165.87 340.68 L166.27 340.57 L166.68 340.48 L167.08 340.4 L167.49 340.35 L167.89 340.3 L168.29 340.28 L168.7 340.26 L169.1 340.26 L169.5 340.26 L169.91 340.28 L170.31 340.3 L170.71 340.33 L171.12 340.36 L171.52 340.39 L171.93 340.43 L172.33 340.47 L172.73 340.51 L173.14 340.54 L173.54 340.58 L173.94 340.62 L174.35 340.65 L174.75 340.68 L175.15 340.7 L175.56 340.72 L175.96 340.74 L176.37 340.75 L176.77 340.76 L177.17 340.77 L177.58 340.78 L177.98 340.78 L178.38 340.78 L178.79 340.78 L179.19 340.78 L179.59 340.78 L180 340.78 L180.4 340.79 L180.8 340.79 L181.21 340.8 L181.61 340.81 L182.02 340.83 L182.42 340.85 L182.82 340.88 L183.23 340.91 L183.63 340.95 L184.03 340.99 L184.44 341.04 L184.84 341.1 L185.24 341.16 L185.65 341.22 L186.05 341.29 L186.46 341.37 L186.86 341.45 L187.26 341.53 L187.67 341.62 L188.07 341.7 L188.47 341.78 L188.88 341.87 L189.28 341.95 L189.68 342.02 L190.09 342.09 L190.49 342.15 L190.89 342.2 L191.3 342.24 L191.7 342.27 L192.11 342.29 L192.51 342.29 L192.91 342.28 L193.32 342.24 L193.72 342.19 L194.12 342.12 L194.53 342.03 L194.93 341.91 L195.33 341.78 L195.74 341.62 L196.14 341.44 L196.55 341.23 L196.95 341 L197.35 340.75 L197.76 340.47 L198.16 340.18 L198.56 339.86 L198.97 339.52 L199.37 339.16 L199.77 338.78 L200.18 338.38 L200.58 337.97 L200.99 337.55 L201.39 337.11 L201.79 336.66 L202.2 336.2 L202.6 335.74 L203 335.28 L203.41 334.81 L203.81 334.34 L204.21 333.87 L204.62 333.41 L205.02 332.95 L205.42 332.5 L205.83 332.06 L206.23 331.64 L206.64 331.22 L207.04 330.82 L207.44 330.44 L207.85 330.08 L208.25 329.73 L208.65 329.4 L209.06 329.1 L209.46 328.81 L209.86 328.55 L210.27 328.31 L210.67 328.09 L211.08 327.89 L211.48 327.71 L211.88 327.55 L212.29 327.42 L212.69 327.3 L213.09 327.2 L213.5 327.12 L213.9 327.06 L214.3 327.01 L214.71 326.98 L215.11 326.96 L215.52 326.95 L215.92 326.96 L216.32 326.97 L216.73 326.99 L217.13 327.01 L217.53 327.04 L217.94 327.08 L218.34 327.11 L218.74 327.15 L219.15 327.19 L219.55 327.23 L219.95 327.26 L220.36 327.3 L220.76 327.33 L221.17 327.36 L221.57 327.39 L221.97 327.41 L222.38 327.43 L222.78 327.45 L223.18 327.46 L223.59 327.47 L223.99 327.47 L224.39 327.48 L224.8 327.48 L225.2 327.48 L225.61 327.48 L226.01 327.48 L226.41 327.48 L226.82 327.48 L227.22 327.49 L227.62 327.49 L228.03 327.5 L228.43 327.52 L228.83 327.54 L229.24 327.56 L229.64 327.59 L230.04 327.63 L230.45 327.67 L230.85 327.72 L231.26 327.77 L231.66 327.83 L232.06 327.89 L232.47 327.96 L232.87 328.04 L233.27 328.12 L233.68 328.2 L234.08 328.28 L234.48 328.37 L234.89 328.45 L235.29 328.53 L235.7 328.61 L236.1 328.69 L236.5 328.76 L236.91 328.82 L237.31 328.88 L237.71 328.93 L238.12 328.96 L238.52 328.98 L238.92 328.99 L239.33 328.98 L239.73 328.95 L240.14 328.91 L240.54 328.85 L240.94 328.76 L241.35 328.66 L241.75 328.53 L242.15 328.38 L242.56 328.2 L242.96 328.01 L243.36 327.78 L243.77 327.54 L244.17 327.27 L244.57 326.98 L244.98 326.67 L245.38 326.34 L245.79 325.99 L246.19 325.62 L246.59 325.23 L247 324.82 L247.4 324.4" fill="none" stroke="#000" stroke-width="1.3" stroke-linejoin="round" />
<text x="41" y="372.39" font-size="14" text-anchor="end" >0</text>
<text x="0" y="0" font-size="14" text-anchor="middle" transform="translate(23.9 348.15) rotate(-90)">Position</text>
<line x1="45.6" y1="365.4" x2="45.6" y2="368.9" stroke="#000" stroke-width="1.3" />
<text x="47.6" y="383.5" font-size="13" text-anchor="middle" >0</text>
<line x1="79.2" y1="365.4" x2="79.2" y2="368.9" stroke="#000" stroke-width="1.3" />
<text x="81.2" y="383.5" font-size="13" text-anchor="middle" >5</text>
<line x1="112.8" y1="365.4" x2="112.8" y2="368.9" stroke="#000" stroke-width="1.3" />
<text x="114.8" y="383.5" font-size="13" text-anchor="middle" >10</text>
<line x1="146.4" y1="365.4" x2="146.4" y2="368.9" stroke="#000" stroke-width="1.3" />
<text x="148.4" y="383.5" font-size="13" text-anchor="middle" >15</text>
<line x1="180" y1="365.4" x2="180" y2="368.9" stroke="#000" stroke-width="1.3" />
<text x="182" y="383.5" font-size="13" text-anchor="middle" >20</text>
<line x1="213.6" y1="365.4" x2="213.6" y2="368.9" stroke="#000" stroke-width="1.3" />
<text x="215.6" y="383.5" font-size="13" text-anchor="middle" >25</text>
<line x1="247.2" y1="365.4" x2="247.2" y2="368.9" stroke="#000" stroke-width="1.3" />
<text x="249.2" y="383.5" font-size="13" text-anchor="middle" >30</text>
<text x="147.4" y="405" font-size="16.4" text-anchor="middle" >Minutes</text>
<line x1="162.5" y1="16.8" x2="162.5" y2="227.5" stroke="#383838" stroke-width="1.0" stroke-dasharray="5 5.3"/>
<line x1="168.5" y1="83.8" x2="168.5" y2="151" stroke="#383838" stroke-width="1.0" stroke-dasharray="5 5.3"/>
<line x1="202.5" y1="163.6" x2="202.5" y2="230" stroke="#383838" stroke-width="1.0" stroke-dasharray="5 5.3"/>
<line x1="162.41" y1="109.5" x2="166.26" y2="109.5" stroke="#2a2a2a" stroke-width="1.0" />
<path d="M169.06 109.5 L165.76 107.8 L165.76 111.2 Z" fill="#111"/>
<line x1="162.41" y1="200.1" x2="199.52" y2="200.1" stroke="#2a2a2a" stroke-width="1.0" />
<path d="M202.32 200.1 L199.02 198.4 L199.02 201.8 Z" fill="#111"/>
<path d="M173.66 106.4 Q174.86 105.2 176.66 105.3 L179.26 105.2 M176.86 105.5 Q174.76 109.3 175.06 111 Q175.46 112.7 177.66 111.7" fill="none" stroke="#000" stroke-width="1.25" stroke-linecap="round"/>
<text x="178.56" y="114.6" font-size="11.5">pol</text>
<path d="M204.22 197.7 Q205.42 196.5 207.22 196.6 L209.82 196.5 M207.42 196.8 Q205.32 200.6 205.62 202.3 Q206.02 204 208.22 203" fill="none" stroke="#000" stroke-width="1.25" stroke-linecap="round"/>
<text x="209.52" y="206" font-size="11.5">mot</text>
<text x="0.2" y="12.8" font-size="15.8" text-anchor="start" font-weight="bold">(a)</text>
<rect x="43.8" y="460.1" width="202" height="46.7" fill="#bebebe"/>
<path d="M43.8 464.57 L44.31 464.7 L44.81 464.84 L45.32 464.98 L45.83 465.12 L46.33 465.26 L46.84 465.4 L47.34 465.55 L47.85 465.69 L48.36 465.84 L48.86 465.99 L49.37 466.14 L49.88 466.3 L50.38 466.45 L50.89 466.61 L51.39 466.76 L51.9 466.92 L52.41 467.08 L52.91 467.24 L53.42 467.4 L53.93 467.57 L54.43 467.73 L54.94 467.9 L55.44 468.06 L55.95 468.23 L56.46 468.4 L56.96 468.57 L57.47 468.74 L57.98 468.91 L58.48 469.08 L58.99 469.25 L59.49 469.42 L60 469.6 L60.51 469.77 L61.01 469.95 L61.52 470.12 L62.03 470.3 L62.53 470.47 L63.04 470.65 L63.54 470.83 L64.05 471 L64.56 471.18 L65.06 471.36 L65.57 471.54 L66.08 471.72 L66.58 471.89 L67.09 472.07 L67.59 472.25 L68.1 472.43 L68.61 472.6 L69.11 472.78 L69.62 472.96 L70.13 473.14 L70.63 473.31 L71.14 473.49 L71.64 473.67 L72.15 473.84 L72.66 474.02 L73.16 474.19 L73.67 474.37 L74.18 474.54 L74.68 474.71 L75.19 474.89 L75.69 475.06 L76.2 475.23 L76.71 475.4 L77.21 475.57 L77.72 475.74 L78.23 475.9 L78.73 476.07 L79.24 476.24 L79.74 476.4 L80.25 476.56 L80.76 476.73 L81.26 476.89 L81.77 477.05 L82.28 477.21 L82.78 477.36 L83.29 477.52 L83.79 477.67 L84.3 477.83 L84.81 477.98 L85.31 478.13 L85.82 478.28 L86.33 478.42 L86.83 478.57 L87.34 478.71 L87.85 478.86 L88.35 479 L88.86 479.14 L89.36 479.27 L89.87 479.41 L90.38 479.54 L90.88 479.67 L91.39 479.8 L91.9 479.93 L92.4 480.06 L92.91 480.18 L93.41 480.3 L93.92 480.42 L94.43 480.54 L94.93 480.65 L95.44 480.77 L95.95 480.88 L96.45 480.99 L96.96 481.09 L97.46 481.2 L97.97 481.3 L98.48 481.4 L98.98 481.5 L99.49 481.59 L100 481.69 L100.5 481.78 L101.01 481.87 L101.51 481.95 L102.02 482.03 L102.53 482.11 L103.03 482.19 L103.54 482.27 L104.05 482.34 L104.55 482.41 L105.06 482.48 L105.56 482.54 L106.07 482.61 L106.58 482.67 L107.08 482.72 L107.59 482.78 L108.1 482.83 L108.6 482.88 L109.11 482.93 L109.61 482.97 L110.12 483.01 L110.63 483.05 L111.13 483.09 L111.64 483.12 L112.15 483.15 L112.65 483.18 L113.16 483.2 L113.66 483.22 L114.17 483.24 L114.68 483.26 L115.18 483.27 L115.69 483.28 L116.2 483.29 L116.7 483.3 L117.21 483.3 L117.71 483.3 L118.22 483.3 L118.73 483.29 L119.23 483.28 L119.74 483.27 L120.25 483.26 L120.75 483.24 L121.26 483.22 L121.76 483.2 L122.27 483.17 L122.78 483.14 L123.28 483.11 L123.79 483.08 L124.3 483.04 L124.8 483 L125.31 482.96 L125.82 482.91 L126.32 482.87 L126.83 482.82 L127.33 482.76 L127.84 482.71 L128.35 482.65 L128.85 482.59 L129.36 482.53 L129.87 482.46 L130.37 482.39 L130.88 482.32 L131.38 482.25 L131.89 482.17 L132.4 482.09 L132.9 482.01 L133.41 481.93 L133.92 481.84 L134.42 481.75 L134.93 481.66 L135.43 481.57 L135.94 481.47 L136.45 481.37 L136.95 481.27 L137.46 481.17 L137.97 481.06 L138.47 480.96 L138.98 480.85 L139.48 480.73 L139.99 480.62 L140.5 480.5 L141 480.39 L141.51 480.27 L142.02 480.14 L142.52 480.02 L143.03 479.89 L143.53 479.76 L144.04 479.63 L144.55 479.5 L145.05 479.37 L145.56 479.23 L146.07 479.09 L146.57 478.95 L147.08 478.81 L147.58 478.67 L148.09 478.53 L148.6 478.38 L149.1 478.23 L149.61 478.08 L150.12 477.93 L150.62 477.78 L151.13 477.63 L151.63 477.47 L152.14 477.32 L152.65 477.16 L153.15 477 L153.66 476.84 L154.17 476.68 L154.67 476.51 L155.18 476.35 L155.68 476.19 L156.19 476.02 L156.7 475.85 L157.2 475.69 L157.71 475.52 L158.22 475.35 L158.72 475.18 L159.23 475.01 L159.73 474.83 L160.24 474.66 L160.75 474.49 L161.25 474.31 L161.76 474.14 L162.27 473.97 L162.77 473.79 L163.28 473.61 L163.78 473.44 L164.29 473.26 L164.8 473.08 L165.3 472.91 L165.81 472.73 L166.32 472.55 L166.82 472.37 L167.33 472.2 L167.84 472.02 L168.34 471.84 L168.85 471.66 L169.35 471.48 L169.86 471.31 L170.37 471.13 L170.87 470.95 L171.38 470.77 L171.89 470.6 L172.39 470.42 L172.9 470.25 L173.4 470.07 L173.91 469.89 L174.42 469.72 L174.92 469.55 L175.43 469.37 L175.94 469.2 L176.44 469.03 L176.95 468.86 L177.45 468.69 L177.96 468.52 L178.47 468.35 L178.97 468.18 L179.48 468.01 L179.99 467.85 L180.49 467.68 L181 467.52 L181.5 467.36 L182.01 467.19 L182.52 467.03 L183.02 466.87 L183.53 466.72 L184.04 466.56 L184.54 466.4 L185.05 466.25 L185.55 466.1 L186.06 465.95 L186.57 465.8 L187.07 465.65 L187.58 465.5 L188.09 465.36 L188.59 465.21 L189.1 465.07 L189.6 464.93 L190.11 464.8 L190.62 464.66 L191.12 464.53 L191.63 464.39 L192.14 464.26 L192.64 464.13 L193.15 464.01 L193.65 463.88 L194.16 463.76 L194.67 463.64 L195.17 463.52 L195.68 463.4 L196.19 463.29 L196.69 463.18 L197.2 463.07 L197.7 462.96 L198.21 462.85 L198.72 462.75 L199.22 462.65 L199.73 462.55 L200.24 462.45 L200.74 462.36 L201.25 462.27 L201.75 462.18 L202.26 462.09 L202.77 462.01 L203.27 461.93 L203.78 461.85 L204.29 461.77 L204.79 461.7 L205.3 461.62 L205.81 461.55 L206.31 461.49 L206.82 461.42 L207.32 461.36 L207.83 461.3 L208.34 461.25 L208.84 461.19 L209.35 461.14 L209.86 461.1 L210.36 461.05 L210.87 461.01 L211.37 460.97 L211.88 460.93 L212.39 460.9 L212.89 460.86 L213.4 460.84 L213.91 460.81 L214.41 460.79 L214.92 460.77 L215.42 460.75 L215.93 460.73 L216.44 460.72 L216.94 460.71 L217.45 460.7 L217.96 460.7 L218.46 460.7 L218.97 460.7 L219.47 460.71 L219.98 460.71 L220.49 460.72 L220.99 460.74 L221.5 460.75 L222.01 460.77 L222.51 460.79 L223.02 460.82 L223.52 460.84 L224.03 460.87 L224.54 460.91 L225.04 460.94 L225.55 460.98 L226.06 461.02 L226.56 461.06 L227.07 461.11 L227.57 461.16 L228.08 461.21 L228.59 461.26 L229.09 461.32 L229.6 461.38 L230.11 461.44 L230.61 461.51 L231.12 461.57 L231.62 461.64 L232.13 461.72 L232.64 461.79 L233.14 461.87 L233.65 461.95 L234.16 462.03 L234.66 462.12 L235.17 462.21 L235.67 462.29 L236.18 462.39 L236.69 462.48 L237.19 462.58 L237.7 462.68 L238.21 462.78 L238.71 462.88 L239.22 462.99 L239.72 463.1 L240.23 463.21 L240.74 463.32 L241.24 463.44 L241.75 463.56 L242.26 463.67 L242.76 463.8 L243.27 463.92 L243.77 464.04 L244.28 464.17 L244.79 464.3 L245.29 464.43 L245.8 464.57" fill="none" stroke="#55b348" stroke-width="1.3" stroke-linejoin="round" />
<path d="M43.8 465.63 L44.31 465.85 L44.81 466.08 L45.32 466.32 L45.83 466.55 L46.33 466.79 L46.84 467.04 L47.34 467.29 L47.85 467.54 L48.36 467.8 L48.86 468.06 L49.37 468.32 L49.88 468.59 L50.38 468.86 L50.89 469.14 L51.39 469.42 L51.9 469.7 L52.41 469.99 L52.91 470.28 L53.42 470.57 L53.93 470.86 L54.43 471.16 L54.94 471.46 L55.44 471.77 L55.95 472.08 L56.46 472.39 L56.96 472.7 L57.47 473.02 L57.98 473.33 L58.48 473.65 L58.99 473.98 L59.49 474.3 L60 474.63 L60.51 474.96 L61.01 475.29 L61.52 475.63 L62.03 475.96 L62.53 476.3 L63.04 476.64 L63.54 476.98 L64.05 477.32 L64.56 477.67 L65.06 478.01 L65.57 478.36 L66.08 478.71 L66.58 479.05 L67.09 479.4 L67.59 479.76 L68.1 480.11 L68.61 480.46 L69.11 480.81 L69.62 481.17 L70.13 481.52 L70.63 481.88 L71.14 482.23 L71.64 482.59 L72.15 482.94 L72.66 483.3 L73.16 483.66 L73.67 484.01 L74.18 484.37 L74.68 484.72 L75.19 485.08 L75.69 485.43 L76.2 485.79 L76.71 486.14 L77.21 486.49 L77.72 486.84 L78.23 487.2 L78.73 487.55 L79.24 487.89 L79.74 488.24 L80.25 488.59 L80.76 488.93 L81.26 489.28 L81.77 489.62 L82.28 489.96 L82.78 490.3 L83.29 490.64 L83.79 490.97 L84.3 491.31 L84.81 491.64 L85.31 491.97 L85.82 492.3 L86.33 492.62 L86.83 492.95 L87.34 493.27 L87.85 493.58 L88.35 493.9 L88.86 494.21 L89.36 494.52 L89.87 494.83 L90.38 495.14 L90.88 495.44 L91.39 495.74 L91.9 496.03 L92.4 496.32 L92.91 496.61 L93.41 496.9 L93.92 497.18 L94.43 497.46 L94.93 497.74 L95.44 498.01 L95.95 498.28 L96.45 498.54 L96.96 498.8 L97.46 499.06 L97.97 499.31 L98.48 499.56 L98.98 499.81 L99.49 500.05 L100 500.28 L100.5 500.52 L101.01 500.75 L101.51 500.97 L102.02 501.19 L102.53 501.4 L103.03 501.62 L103.54 501.82 L104.05 502.02 L104.55 502.22 L105.06 502.41 L105.56 502.6 L106.07 502.78 L106.58 502.96 L107.08 503.13 L107.59 503.3 L108.1 503.46 L108.6 503.62 L109.11 503.78 L109.61 503.92 L110.12 504.07 L110.63 504.21 L111.13 504.34 L111.64 504.47 L112.15 504.59 L112.65 504.7 L113.16 504.82 L113.66 504.92 L114.17 505.02 L114.68 505.12 L115.18 505.21 L115.69 505.29 L116.2 505.37 L116.7 505.45 L117.21 505.51 L117.71 505.58 L118.22 505.63 L118.73 505.69 L119.23 505.73 L119.74 505.77 L120.25 505.81 L120.75 505.84 L121.26 505.86 L121.76 505.88 L122.27 505.89 L122.78 505.9 L123.28 505.9 L123.79 505.9 L124.3 505.89 L124.8 505.87 L125.31 505.85 L125.82 505.82 L126.32 505.79 L126.83 505.75 L127.33 505.71 L127.84 505.66 L128.35 505.61 L128.85 505.55 L129.36 505.48 L129.87 505.41 L130.37 505.33 L130.88 505.25 L131.38 505.16 L131.89 505.07 L132.4 504.97 L132.9 504.87 L133.41 504.76 L133.92 504.65 L134.42 504.53 L134.93 504.4 L135.43 504.27 L135.94 504.14 L136.45 504 L136.95 503.85 L137.46 503.7 L137.97 503.54 L138.47 503.38 L138.98 503.22 L139.48 503.05 L139.99 502.87 L140.5 502.69 L141 502.51 L141.51 502.32 L142.02 502.12 L142.52 501.92 L143.03 501.72 L143.53 501.51 L144.04 501.3 L144.55 501.08 L145.05 500.86 L145.56 500.63 L146.07 500.4 L146.57 500.17 L147.08 499.93 L147.58 499.68 L148.09 499.44 L148.6 499.19 L149.1 498.93 L149.61 498.67 L150.12 498.41 L150.62 498.14 L151.13 497.87 L151.63 497.6 L152.14 497.32 L152.65 497.04 L153.15 496.76 L153.66 496.47 L154.17 496.18 L154.67 495.88 L155.18 495.59 L155.68 495.29 L156.19 494.98 L156.7 494.68 L157.2 494.37 L157.71 494.06 L158.22 493.74 L158.72 493.43 L159.23 493.11 L159.73 492.78 L160.24 492.46 L160.75 492.13 L161.25 491.8 L161.76 491.47 L162.27 491.14 L162.77 490.81 L163.28 490.47 L163.78 490.13 L164.29 489.79 L164.8 489.45 L165.3 489.11 L165.81 488.76 L166.32 488.42 L166.82 488.07 L167.33 487.72 L167.84 487.37 L168.34 487.02 L168.85 486.67 L169.35 486.32 L169.86 485.96 L170.37 485.61 L170.87 485.25 L171.38 484.9 L171.89 484.54 L172.39 484.19 L172.9 483.83 L173.4 483.48 L173.91 483.12 L174.42 482.77 L174.92 482.41 L175.43 482.06 L175.94 481.7 L176.44 481.35 L176.95 480.99 L177.45 480.64 L177.96 480.28 L178.47 479.93 L178.97 479.58 L179.48 479.23 L179.99 478.88 L180.49 478.53 L181 478.18 L181.5 477.84 L182.01 477.49 L182.52 477.15 L183.02 476.81 L183.53 476.47 L184.04 476.13 L184.54 475.79 L185.05 475.46 L185.55 475.13 L186.06 474.8 L186.57 474.47 L187.07 474.14 L187.58 473.82 L188.09 473.49 L188.59 473.17 L189.1 472.86 L189.6 472.54 L190.11 472.23 L190.62 471.92 L191.12 471.62 L191.63 471.31 L192.14 471.01 L192.64 470.72 L193.15 470.42 L193.65 470.13 L194.16 469.84 L194.67 469.56 L195.17 469.28 L195.68 469 L196.19 468.73 L196.69 468.46 L197.2 468.19 L197.7 467.93 L198.21 467.67 L198.72 467.41 L199.22 467.16 L199.73 466.92 L200.24 466.67 L200.74 466.43 L201.25 466.2 L201.75 465.97 L202.26 465.74 L202.77 465.52 L203.27 465.3 L203.78 465.09 L204.29 464.88 L204.79 464.68 L205.3 464.48 L205.81 464.28 L206.31 464.09 L206.82 463.91 L207.32 463.73 L207.83 463.55 L208.34 463.38 L208.84 463.22 L209.35 463.06 L209.86 462.9 L210.36 462.75 L210.87 462.6 L211.37 462.46 L211.88 462.33 L212.39 462.2 L212.89 462.07 L213.4 461.95 L213.91 461.84 L214.41 461.73 L214.92 461.63 L215.42 461.53 L215.93 461.44 L216.44 461.35 L216.94 461.27 L217.45 461.19 L217.96 461.12 L218.46 461.05 L218.97 460.99 L219.47 460.94 L219.98 460.89 L220.49 460.85 L220.99 460.81 L221.5 460.78 L222.01 460.75 L222.51 460.73 L223.02 460.71 L223.52 460.7 L224.03 460.7 L224.54 460.7 L225.04 460.71 L225.55 460.72 L226.06 460.74 L226.56 460.76 L227.07 460.79 L227.57 460.83 L228.08 460.87 L228.59 460.91 L229.09 460.97 L229.6 461.02 L230.11 461.09 L230.61 461.15 L231.12 461.23 L231.62 461.31 L232.13 461.39 L232.64 461.48 L233.14 461.58 L233.65 461.68 L234.16 461.78 L234.66 461.9 L235.17 462.01 L235.67 462.13 L236.18 462.26 L236.69 462.39 L237.19 462.53 L237.7 462.68 L238.21 462.82 L238.71 462.98 L239.22 463.14 L239.72 463.3 L240.23 463.47 L240.74 463.64 L241.24 463.82 L241.75 464 L242.26 464.19 L242.76 464.38 L243.27 464.58 L243.77 464.78 L244.28 464.98 L244.79 465.2 L245.29 465.41 L245.8 465.63" fill="none" stroke="#3d7fc6" stroke-width="1.3" stroke-linejoin="round" />
<path d="M43.8 468.65 L44.31 468.94 L44.81 469.23 L45.32 469.53 L45.83 469.82 L46.33 470.12 L46.84 470.42 L47.34 470.72 L47.85 471.02 L48.36 471.33 L48.86 471.63 L49.37 471.93 L49.88 472.23 L50.38 472.54 L50.89 472.84 L51.39 473.14 L51.9 473.44 L52.41 473.75 L52.91 474.05 L53.42 474.35 L53.93 474.64 L54.43 474.94 L54.94 475.23 L55.44 475.53 L55.95 475.82 L56.46 476.1 L56.96 476.39 L57.47 476.67 L57.98 476.95 L58.48 477.23 L58.99 477.51 L59.49 477.78 L60 478.04 L60.51 478.31 L61.01 478.57 L61.52 478.83 L62.03 479.08 L62.53 479.33 L63.04 479.57 L63.54 479.81 L64.05 480.05 L64.56 480.28 L65.06 480.51 L65.57 480.73 L66.08 480.94 L66.58 481.16 L67.09 481.36 L67.59 481.57 L68.1 481.76 L68.61 481.96 L69.11 482.14 L69.62 482.32 L70.13 482.5 L70.63 482.67 L71.14 482.84 L71.64 483 L72.15 483.15 L72.66 483.3 L73.16 483.44 L73.67 483.58 L74.18 483.71 L74.68 483.84 L75.19 483.96 L75.69 484.08 L76.2 484.19 L76.71 484.29 L77.21 484.39 L77.72 484.49 L78.23 484.57 L78.73 484.66 L79.24 484.74 L79.74 484.81 L80.25 484.88 L80.76 484.94 L81.26 485 L81.77 485.05 L82.28 485.1 L82.78 485.14 L83.29 485.18 L83.79 485.21 L84.3 485.24 L84.81 485.26 L85.31 485.28 L85.82 485.3 L86.33 485.31 L86.83 485.32 L87.34 485.32 L87.85 485.32 L88.35 485.32 L88.86 485.31 L89.36 485.3 L89.87 485.29 L90.38 485.27 L90.88 485.25 L91.39 485.22 L91.9 485.2 L92.4 485.17 L92.91 485.14 L93.41 485.1 L93.92 485.07 L94.43 485.03 L94.93 484.99 L95.44 484.95 L95.95 484.9 L96.45 484.86 L96.96 484.81 L97.46 484.76 L97.97 484.72 L98.48 484.67 L98.98 484.62 L99.49 484.56 L100 484.51 L100.5 484.46 L101.01 484.41 L101.51 484.35 L102.02 484.3 L102.53 484.25 L103.03 484.2 L103.54 484.15 L104.05 484.09 L104.55 484.04 L105.06 483.99 L105.56 483.95 L106.07 483.9 L106.58 483.85 L107.08 483.8 L107.59 483.76 L108.1 483.72 L108.6 483.68 L109.11 483.64 L109.61 483.6 L110.12 483.56 L110.63 483.53 L111.13 483.5 L111.64 483.47 L112.15 483.44 L112.65 483.42 L113.16 483.39 L113.66 483.37 L114.17 483.35 L114.68 483.34 L115.18 483.33 L115.69 483.32 L116.2 483.31 L116.7 483.3 L117.21 483.3 L117.71 483.3 L118.22 483.3 L118.73 483.31 L119.23 483.32 L119.74 483.33 L120.25 483.34 L120.75 483.36 L121.26 483.38 L121.76 483.4 L122.27 483.43 L122.78 483.46 L123.28 483.49 L123.79 483.52 L124.3 483.56 L124.8 483.6 L125.31 483.64 L125.82 483.68 L126.32 483.73 L126.83 483.78 L127.33 483.83 L127.84 483.89 L128.35 483.94 L128.85 484 L129.36 484.06 L129.87 484.12 L130.37 484.19 L130.88 484.25 L131.38 484.32 L131.89 484.39 L132.4 484.46 L132.9 484.53 L133.41 484.61 L133.92 484.68 L134.42 484.76 L134.93 484.83 L135.43 484.91 L135.94 484.99 L136.45 485.07 L136.95 485.15 L137.46 485.22 L137.97 485.3 L138.47 485.38 L138.98 485.46 L139.48 485.54 L139.99 485.62 L140.5 485.7 L141 485.78 L141.51 485.85 L142.02 485.93 L142.52 486 L143.03 486.08 L143.53 486.15 L144.04 486.22 L144.55 486.29 L145.05 486.36 L145.56 486.42 L146.07 486.48 L146.57 486.54 L147.08 486.6 L147.58 486.66 L148.09 486.71 L148.6 486.76 L149.1 486.8 L149.61 486.85 L150.12 486.89 L150.62 486.92 L151.13 486.96 L151.63 486.99 L152.14 487.01 L152.65 487.03 L153.15 487.05 L153.66 487.06 L154.17 487.07 L154.67 487.08 L155.18 487.08 L155.68 487.07 L156.19 487.06 L156.7 487.05 L157.2 487.03 L157.71 487 L158.22 486.97 L158.72 486.94 L159.23 486.9 L159.73 486.85 L160.24 486.8 L160.75 486.74 L161.25 486.68 L161.76 486.61 L162.27 486.54 L162.77 486.46 L163.28 486.37 L163.78 486.28 L164.29 486.18 L164.8 486.08 L165.3 485.97 L165.81 485.85 L166.32 485.73 L166.82 485.61 L167.33 485.47 L167.84 485.33 L168.34 485.19 L168.85 485.03 L169.35 484.88 L169.86 484.71 L170.37 484.54 L170.87 484.37 L171.38 484.19 L171.89 484 L172.39 483.81 L172.9 483.61 L173.4 483.4 L173.91 483.19 L174.42 482.98 L174.92 482.76 L175.43 482.53 L175.94 482.3 L176.44 482.07 L176.95 481.82 L177.45 481.58 L177.96 481.33 L178.47 481.07 L178.97 480.81 L179.48 480.55 L179.99 480.28 L180.49 480 L181 479.73 L181.5 479.45 L182.01 479.16 L182.52 478.87 L183.02 478.58 L183.53 478.29 L184.04 477.99 L184.54 477.69 L185.05 477.38 L185.55 477.08 L186.06 476.77 L186.57 476.46 L187.07 476.15 L187.58 475.83 L188.09 475.52 L188.59 475.2 L189.1 474.88 L189.6 474.56 L190.11 474.24 L190.62 473.92 L191.12 473.59 L191.63 473.27 L192.14 472.95 L192.64 472.63 L193.15 472.31 L193.65 471.99 L194.16 471.67 L194.67 471.35 L195.17 471.03 L195.68 470.71 L196.19 470.4 L196.69 470.08 L197.2 469.77 L197.7 469.46 L198.21 469.16 L198.72 468.85 L199.22 468.55 L199.73 468.26 L200.24 467.96 L200.74 467.67 L201.25 467.39 L201.75 467.1 L202.26 466.82 L202.77 466.55 L203.27 466.28 L203.78 466.01 L204.29 465.75 L204.79 465.5 L205.3 465.25 L205.81 465 L206.31 464.76 L206.82 464.53 L207.32 464.3 L207.83 464.08 L208.34 463.86 L208.84 463.66 L209.35 463.45 L209.86 463.26 L210.36 463.07 L210.87 462.89 L211.37 462.71 L211.88 462.54 L212.39 462.38 L212.89 462.23 L213.4 462.08 L213.91 461.94 L214.41 461.81 L214.92 461.69 L215.42 461.57 L215.93 461.47 L216.44 461.37 L216.94 461.28 L217.45 461.19 L217.96 461.12 L218.46 461.05 L218.97 461 L219.47 460.95 L219.98 460.9 L220.49 460.87 L220.99 460.85 L221.5 460.83 L222.01 460.82 L222.51 460.82 L223.02 460.83 L223.52 460.85 L224.03 460.87 L224.54 460.91 L225.04 460.95 L225.55 461 L226.06 461.06 L226.56 461.13 L227.07 461.2 L227.57 461.28 L228.08 461.37 L228.59 461.47 L229.09 461.58 L229.6 461.69 L230.11 461.82 L230.61 461.95 L231.12 462.08 L231.62 462.23 L232.13 462.38 L232.64 462.54 L233.14 462.7 L233.65 462.87 L234.16 463.05 L234.66 463.24 L235.17 463.43 L235.67 463.63 L236.18 463.83 L236.69 464.04 L237.19 464.26 L237.7 464.48 L238.21 464.71 L238.71 464.94 L239.22 465.18 L239.72 465.42 L240.23 465.67 L240.74 465.92 L241.24 466.18 L241.75 466.44 L242.26 466.7 L242.76 466.97 L243.27 467.24 L243.77 467.52 L244.28 467.8 L244.79 468.08 L245.29 468.37 L245.8 468.65" fill="none" stroke="#e3262b" stroke-width="1.3" stroke-linejoin="round" />
<line x1="46.9" y1="483.3" x2="245.8" y2="483.3" stroke="#505050" stroke-width="1.1" stroke-dasharray="1.5 2.35"/>
<line x1="43.8" y1="460.6" x2="43.8" y2="506.6" stroke="#000" stroke-width="1.4" />
<line x1="245.8" y1="460.6" x2="245.8" y2="506.6" stroke="#000" stroke-width="1.4" />
<line x1="43.8" y1="483.3" x2="48.4" y2="483.3" stroke="#000" stroke-width="1.4" />
<line x1="241.2" y1="483.3" x2="245.8" y2="483.3" stroke="#000" stroke-width="1.4" />
<text x="38.8" y="488.9" font-size="14" text-anchor="end" >0</text>
<line x1="43.5" y1="419.3" x2="43.5" y2="506.6" stroke="#737373" stroke-width="1.2" stroke-dasharray="5 5.3"/>
<line x1="72.5" y1="419.3" x2="72.5" y2="506.6" stroke="#737373" stroke-width="1.2" stroke-dasharray="5 5.3"/>
<line x1="218.5" y1="419.3" x2="218.5" y2="506.6" stroke="#737373" stroke-width="1.2" stroke-dasharray="5 5.3"/>
<line x1="43.8" y1="437.5" x2="69.36" y2="437.5" stroke="#222" stroke-width="1.3" />
<path d="M72.66 437.5 L68.86 435.7 L68.86 439.3 Z" fill="#111"/>
<line x1="43.8" y1="452.8" x2="215.09" y2="452.8" stroke="#383838" stroke-width="1.3" />
<path d="M218.39 452.8 L214.59 451 L214.59 454.6 Z" fill="#111"/>
<path d="M48.8 422.9 Q50 421.7 51.8 421.8 L54.4 421.7 M52 422 Q49.9 425.8 50.2 427.5 Q50.6 429.2 52.8 428.2" fill="none" stroke="#000" stroke-width="1.25" stroke-linecap="round"/>
<text x="54.3" y="431.7" font-size="11.5">pol</text>
<path d="M121.4 438.7 Q122.6 437.5 124.4 437.6 L127 437.5 M124.6 437.8 Q122.5 441.6 122.8 443.3 Q123.2 445 125.4 444" fill="none" stroke="#000" stroke-width="1.25" stroke-linecap="round"/>
<text x="126.7" y="447" font-size="11.5">mot</text>
<text x="148.6" y="525.1" font-size="16.4" text-anchor="middle" >Minutes</text>
<rect x="432.99" y="101.2" width="47.63" height="194.8" fill="#bebebe"/>
<line x1="317.4" y1="73.9" x2="516" y2="73.9" stroke="#505050" stroke-width="1.1" stroke-dasharray="1.5 2.35"/>
<line x1="313.9" y1="28.3" x2="313.9" y2="73.9" stroke="#000" stroke-width="1.4" />
<line x1="516" y1="28.3" x2="516" y2="73.9" stroke="#000" stroke-width="1.4" />
<line x1="512.5" y1="73.9" x2="516" y2="73.9" stroke="#000" stroke-width="1.1" />
<line x1="313.9" y1="73.9" x2="317.4" y2="73.9" stroke="#000" stroke-width="1.1" />
<path d="M313.9 73.9 L314.31 73.87 L314.71 73.77 L315.12 73.61 L315.52 73.38 L315.93 73.09 L316.33 72.74 L316.74 72.32 L317.14 71.85 L317.55 71.32 L317.95 70.72 L318.36 70.08 L318.76 69.37 L319.17 68.62 L319.57 67.82 L319.98 66.96 L320.38 66.07 L320.79 65.13 L321.19 64.15 L321.6 63.13 L322 62.08 L322.41 61 L322.81 59.88 L323.22 58.75 L323.62 57.59 L324.03 56.41 L324.43 55.22 L324.84 54.02 L325.24 52.81 L325.65 51.59 L326.05 50.37 L326.46 49.16 L326.86 47.95 L327.27 46.75 L327.67 45.56 L328.08 44.38 L328.48 43.23 L328.89 42.1 L329.29 40.99 L329.7 39.92 L330.1 38.87 L330.51 37.86 L330.91 36.89 L331.32 35.96 L331.72 35.07 L332.13 34.23 L332.53 33.43 L332.94 32.69 L333.34 32 L333.75 31.36 L334.15 30.78 L334.56 30.25 L334.96 29.79 L335.37 29.39 L335.77 29.05 L336.18 28.77 L336.58 28.56 L336.99 28.41 L337.39 28.32 L337.8 28.3 L338.2 28.35 L338.61 28.46 L339.01 28.63 L339.42 28.87 L339.82 29.17 L340.23 29.54 L340.63 29.96 L341.04 30.45 L341.44 30.99 L341.85 31.6 L342.25 32.26 L342.66 32.97 L343.06 33.73 L343.47 34.55 L343.87 35.41 L344.28 36.31 L344.68 37.26 L345.09 38.25 L345.49 39.27 L345.9 40.33 L346.3 41.42 L346.71 42.53 L347.11 43.67 L347.52 44.83 L347.92 46.01 L348.33 47.21 L348.73 48.41 L349.14 49.63 L349.54 50.84 L349.95 52.06 L350.35 53.28 L350.76 54.48 L351.16 55.68 L351.57 56.87 L351.97 58.04 L352.38 59.19 L352.78 60.32 L353.19 61.42 L353.59 62.49 L354 63.53 L354.4 64.53 L354.81 65.49 L355.21 66.42 L355.62 67.3 L356.02 68.13 L356.43 68.92 L356.83 69.65 L357.24 70.33 L357.64 70.96 L358.05 71.53 L358.45 72.04 L358.86 72.49 L359.26 72.88 L359.67 73.21 L360.07 73.48 L360.48 73.68 L360.88 73.82 L361.29 73.89 L361.69 73.9 L362.1 73.84 L362.5 73.72 L362.91 73.53 L363.31 73.28 L363.72 72.96 L364.12 72.59 L364.53 72.15 L364.93 71.65 L365.34 71.09 L365.74 70.48 L366.15 69.81 L366.55 69.09 L366.96 68.31 L367.36 67.49 L367.77 66.62 L368.17 65.71 L368.58 64.75 L368.98 63.76 L369.39 62.73 L369.79 61.66 L370.2 60.57 L370.6 59.45 L371.01 58.3 L371.41 57.14 L371.82 55.96 L372.22 54.76 L372.63 53.55 L373.03 52.34 L373.44 51.12 L373.84 49.9 L374.25 48.69 L374.65 47.48 L375.06 46.29 L375.46 45.1 L375.87 43.94 L376.27 42.79 L376.68 41.67 L377.08 40.57 L377.49 39.51 L377.89 38.48 L378.3 37.48 L378.7 36.53 L379.11 35.61 L379.51 34.74 L379.92 33.91 L380.32 33.14 L380.73 32.41 L381.13 31.74 L381.54 31.13 L381.94 30.57 L382.35 30.07 L382.75 29.63 L383.16 29.25 L383.56 28.93 L383.97 28.68 L384.37 28.49 L384.78 28.37 L385.18 28.31 L385.59 28.31 L385.99 28.38 L386.4 28.52 L386.8 28.72 L387.21 28.98 L387.61 29.3 L388.02 29.69 L388.42 30.14 L388.83 30.65 L389.23 31.22 L389.64 31.84 L390.04 32.52 L390.45 33.26 L390.85 34.04 L391.26 34.87 L391.66 35.75 L392.07 36.67 L392.47 37.64 L392.88 38.64 L393.28 39.67 L393.69 40.74 L394.09 41.84 L394.5 42.97 L394.9 44.12 L395.31 45.29 L395.71 46.47 L396.12 47.67 L396.52 48.88 L396.93 50.1 L397.33 51.31 L397.74 52.53 L398.14 53.74 L398.55 54.95 L398.95 56.14 L399.36 57.32 L399.76 58.49 L400.17 59.63 L400.57 60.74 L400.98 61.83 L401.38 62.89 L401.79 63.92 L402.19 64.91 L402.6 65.85 L403 66.76 L403.41 67.62 L403.81 68.44 L404.22 69.21 L404.62 69.92 L405.03 70.58 L405.43 71.18 L405.84 71.73 L406.24 72.22 L406.65 72.65 L407.05 73.02 L407.46 73.32 L407.86 73.56 L408.27 73.74 L408.67 73.85 L409.08 73.9 L409.48 73.88 L409.89 73.8 L410.29 73.65 L410.7 73.44 L411.1 73.16 L411.51 72.82 L411.91 72.42 L412.32 71.96 L412.72 71.44 L413.13 70.86 L413.53 70.23 L413.94 69.54 L414.34 68.8 L414.75 68 L415.15 67.16 L415.56 66.28 L415.96 65.34 L416.37 64.37 L416.77 63.37 L417.18 62.32 L417.58 61.25 L417.99 60.14 L418.39 59.01 L418.8 57.86 L419.2 56.68 L419.61 55.5 L420.01 54.3 L420.42 53.09 L420.82 51.87 L421.23 50.65 L421.63 49.44 L422.04 48.22 L422.44 47.02 L422.85 45.83 L423.25 44.65 L423.66 43.49 L424.06 42.36 L424.47 41.24 L424.87 40.16 L425.28 39.11 L425.68 38.09 L426.09 37.11 L426.49 36.17 L426.9 35.27 L427.3 34.41 L427.71 33.61 L428.11 32.85 L428.52 32.15 L428.92 31.5 L429.33 30.91 L429.73 30.37 L430.14 29.89 L430.54 29.48 L430.95 29.12 L431.35 28.83 L431.76 28.6 L432.16 28.43 L432.57 28.33 L432.97 28.3 L433.38 28.33 L433.78 28.43 L434.19 28.59 L434.59 28.81 L435 29.1 L435.4 29.45 L435.81 29.86 L436.21 30.33 L436.62 30.86 L437.02 31.45 L437.43 32.1 L437.83 32.8 L438.24 33.55 L438.64 34.36 L439.05 35.21 L439.45 36.1 L439.86 37.04 L440.26 38.02 L440.67 39.03 L441.07 40.08 L441.48 41.17 L441.88 42.28 L442.29 43.41 L442.69 44.57 L443.1 45.74 L443.5 46.93 L443.91 48.14 L444.31 49.35 L444.72 50.56 L445.12 51.78 L445.53 53 L445.93 54.21 L446.34 55.41 L446.74 56.6 L447.15 57.77 L447.55 58.93 L447.96 60.06 L448.36 61.17 L448.77 62.25 L449.17 63.29 L449.58 64.3 L449.98 65.28 L450.39 66.21 L450.79 67.1 L451.2 67.94 L451.6 68.74 L452.01 69.49 L452.41 70.18 L452.82 70.82 L453.22 71.4 L453.63 71.93 L454.03 72.39 L454.44 72.8 L454.84 73.14 L455.25 73.42 L455.65 73.64 L456.06 73.79 L456.46 73.88 L456.87 73.9 L457.27 73.86 L457.68 73.75 L458.08 73.58 L458.49 73.34 L458.89 73.04 L459.3 72.68 L459.7 72.25 L460.11 71.77 L460.51 71.23 L460.92 70.63 L461.32 69.97 L461.73 69.26 L462.13 68.5 L462.54 67.68 L462.94 66.83 L463.35 65.92 L463.75 64.98 L464.16 63.99 L464.56 62.97 L464.97 61.91 L465.37 60.82 L465.78 59.71 L466.18 58.57 L466.59 57.41 L466.99 56.23 L467.4 55.03 L467.8 53.83 L468.21 52.62 L468.61 51.4 L469.02 50.18 L469.42 48.97 L469.83 47.76 L470.23 46.56 L470.64 45.37 L471.04 44.2 L471.45 43.05 L471.85 41.92 L472.26 40.82 L472.66 39.75 L473.07 38.71 L473.47 37.71 L473.88 36.74 L474.28 35.82 L474.69 34.93 L475.09 34.1 L475.5 33.31 L475.9 32.58 L476.31 31.89 L476.71 31.26 L477.12 30.69 L477.52 30.18 L477.93 29.72 L478.33 29.33 L478.74 29 L479.14 28.73 L479.55 28.53 L479.95 28.39 L480.36 28.31 L480.76 28.3 L481.17 28.36 L481.57 28.48 L481.98 28.66 L482.38 28.91 L482.79 29.22 L483.19 29.6 L483.6 30.03 L484 30.53 L484.41 31.09 L484.81 31.7 L485.22 32.36 L485.62 33.08 L486.03 33.86 L486.43 34.68 L486.84 35.55 L487.24 36.46 L487.65 37.41 L488.05 38.41 L488.46 39.43 L488.86 40.5 L489.27 41.59 L489.67 42.71 L490.08 43.85 L490.48 45.02 L490.89 46.2 L491.29 47.4 L491.7 48.6 L492.1 49.82 L492.51 51.03 L492.91 52.25 L493.32 53.47 L493.72 54.67 L494.13 55.87 L494.53 57.05 L494.94 58.22 L495.34 59.37 L495.75 60.49 L496.15 61.59 L496.56 62.65 L496.96 63.69 L497.37 64.68 L497.77 65.64 L498.18 66.56 L498.58 67.43 L498.99 68.26 L499.39 69.03 L499.8 69.76 L500.2 70.43 L500.61 71.05 L501.01 71.61 L501.42 72.11 L501.82 72.56 L502.23 72.94 L502.63 73.26 L503.04 73.51 L503.44 73.7 L503.85 73.83 L504.25 73.89 L504.66 73.89 L505.06 73.82 L505.47 73.69 L505.87 73.49 L506.28 73.23 L506.68 72.91 L507.09 72.52 L507.49 72.07 L507.9 71.57 L508.3 71 L508.71 70.38 L509.11 69.7 L509.52 68.97 L509.92 68.19 L510.33 67.36 L510.73 66.48 L511.14 65.56 L511.54 64.6 L511.95 63.6 L512.35 62.56 L512.76 61.49 L513.16 60.4 L513.57 59.27 L513.97 58.12 L514.38 56.95 L514.78 55.77 L515.19 54.57 L515.59 53.36 L516 52.15" fill="none" stroke="#000" stroke-width="1.3" stroke-linejoin="round" />
<text x="0" y="0" font-size="14" text-anchor="middle" transform="translate(290.9 49.5) rotate(-90)">Stimulation</text>
<line x1="317.4" y1="124.8" x2="516" y2="124.8" stroke="#505050" stroke-width="1.1" stroke-dasharray="1.5 2.35"/>
<line x1="313.9" y1="102" x2="313.9" y2="147.6" stroke="#000" stroke-width="1.4" />
<line x1="516" y1="102" x2="516" y2="147.6" stroke="#000" stroke-width="1.4" />
<line x1="512.5" y1="124.8" x2="516" y2="124.8" stroke="#000" stroke-width="1.1" />
<line x1="313.9" y1="124.8" x2="317.4" y2="124.8" stroke="#000" stroke-width="1.1" />
<path d="M313.9 124.8 L314.31 124.8 L314.71 124.8 L315.12 124.8 L315.52 124.8 L315.93 124.8 L316.33 124.8 L316.74 124.8 L317.14 124.8 L317.55 124.8 L317.95 124.8 L318.36 124.8 L318.76 124.8 L319.17 124.8 L319.57 124.8 L319.98 124.8 L320.38 124.8 L320.79 124.56 L321.19 123.34 L321.6 122.13 L322 120.92 L322.41 119.73 L322.81 118.55 L323.22 117.39 L323.62 116.25 L324.03 115.13 L324.43 114.04 L324.84 112.98 L325.24 111.96 L325.65 110.97 L326.05 110.02 L326.46 109.12 L326.86 108.26 L327.27 107.44 L327.67 106.68 L328.08 105.96 L328.48 105.31 L328.89 104.7 L329.29 104.16 L329.7 103.67 L330.1 103.24 L330.51 102.88 L330.91 102.57 L331.32 102.33 L331.72 102.16 L332.13 102.05 L332.53 102 L332.94 102.02 L333.34 102.1 L333.75 102.25 L334.15 102.47 L334.56 102.74 L334.96 103.08 L335.37 103.49 L335.77 103.95 L336.18 104.47 L336.58 105.05 L336.99 105.69 L337.39 106.38 L337.8 107.12 L338.2 107.92 L338.61 108.76 L339.01 109.65 L339.42 110.58 L339.82 111.55 L340.23 112.56 L340.63 113.6 L341.04 114.68 L341.44 115.78 L341.85 116.92 L342.25 118.07 L342.66 119.24 L343.06 120.43 L343.47 121.63 L343.87 122.84 L344.28 124.06 L344.68 125.28 L345.09 126.49 L345.49 127.7 L345.9 128.91 L346.3 130.1 L346.71 131.28 L347.11 132.43 L347.52 133.57 L347.92 134.68 L348.33 135.76 L348.73 136.82 L349.14 137.83 L349.54 138.81 L349.95 139.75 L350.35 140.65 L350.76 141.5 L351.16 142.31 L351.57 143.06 L351.97 143.77 L352.38 144.42 L352.78 145.01 L353.19 145.54 L353.59 146.02 L354 146.43 L354.4 146.79 L354.81 147.08 L355.21 147.31 L355.62 147.47 L356.02 147.57 L356.43 147.6 L356.83 147.57 L357.24 147.47 L357.64 147.31 L358.05 147.08 L358.45 146.8 L358.86 146.44 L359.26 146.03 L359.67 145.56 L360.07 145.02 L360.48 144.43 L360.88 143.78 L361.29 143.08 L361.69 142.33 L362.1 141.53 L362.5 140.67 L362.91 139.78 L363.31 138.84 L363.72 137.86 L364.12 136.84 L364.53 135.79 L364.93 134.71 L365.34 133.6 L365.74 132.46 L366.15 131.31 L366.55 130.13 L366.96 128.94 L367.36 127.74 L367.77 126.52 L368.17 125.31 L368.58 124.09 L368.98 122.87 L369.39 121.66 L369.79 120.46 L370.2 119.27 L370.6 118.1 L371.01 116.95 L371.41 115.81 L371.82 114.71 L372.22 113.63 L372.63 112.58 L373.03 111.57 L373.44 110.6 L373.84 109.67 L374.25 108.78 L374.65 107.94 L375.06 107.14 L375.46 106.4 L375.87 105.7 L376.27 105.07 L376.68 104.48 L377.08 103.96 L377.49 103.5 L377.89 103.09 L378.3 102.75 L378.7 102.47 L379.11 102.26 L379.51 102.11 L379.92 102.02 L380.32 102 L380.73 102.05 L381.13 102.15 L381.54 102.33 L381.94 102.57 L382.35 102.87 L382.75 103.23 L383.16 103.66 L383.56 104.14 L383.97 104.69 L384.37 105.29 L384.78 105.95 L385.18 106.66 L385.59 107.42 L385.99 108.23 L386.4 109.1 L386.8 110 L387.21 110.95 L387.61 111.93 L388.02 112.96 L388.42 114.01 L388.83 115.1 L389.23 116.22 L389.64 117.36 L390.04 118.52 L390.45 119.7 L390.85 120.89 L391.26 122.1 L391.66 123.31 L392.07 124.53 L392.47 125.75 L392.88 126.96 L393.28 128.17 L393.69 129.37 L394.09 130.55 L394.5 131.72 L394.9 132.87 L395.31 134 L395.71 135.1 L396.12 136.17 L396.52 137.21 L396.93 138.22 L397.33 139.18 L397.74 140.11 L398.14 140.99 L398.55 141.82 L398.95 142.61 L399.36 143.34 L399.76 144.02 L400.17 144.65 L400.57 145.22 L400.98 145.73 L401.38 146.19 L401.79 146.58 L402.19 146.91 L402.6 147.17 L403 147.38 L403.41 147.51 L403.81 147.59 L404.22 147.6 L404.62 147.54 L405.03 147.42 L405.43 147.23 L405.84 146.98 L406.24 146.67 L406.65 146.29 L407.05 145.85 L407.46 145.36 L407.86 144.8 L408.27 144.19 L408.67 143.52 L409.08 142.8 L409.48 142.03 L409.89 141.2 L410.29 140.33 L410.7 139.42 L411.1 138.47 L411.51 137.47 L411.91 136.44 L412.32 135.38 L412.72 134.28 L413.13 133.16 L413.53 132.02 L413.94 130.85 L414.34 129.67 L414.75 128.48 L415.15 127.27 L415.56 126.05 L415.96 124.84 L416.37 123.62 L416.77 122.41 L417.18 121.2 L417.58 120 L417.99 118.82 L418.39 117.65 L418.8 116.51 L419.2 115.38 L419.61 114.29 L420.01 113.22 L420.42 112.19 L420.82 111.19 L421.23 110.24 L421.63 109.32 L422.04 108.45 L422.44 107.62 L422.85 106.85 L423.25 106.12 L423.66 105.45 L424.06 104.84 L424.47 104.28 L424.87 103.77 L425.28 103.33 L425.68 102.95 L426.09 102.64 L426.49 102.38 L426.9 102.19 L427.3 102.07 L427.71 102.01 L428.11 102.01 L428.52 102.08 L428.92 102.21 L429.33 102.41 L429.73 102.67 L430.14 103 L430.54 103.39 L430.95 103.84 L431.35 104.35 L431.76 104.91 L432.16 105.54 L432.57 106.22 L432.97 106.95 L433.38 107.73 L433.78 108.56 L434.19 109.44 L434.59 110.36 L435 111.32 L435.4 112.32 L435.81 113.36 L436.21 114.43 L436.62 115.53 L437.02 116.66 L437.43 117.8 L437.83 118.97 L438.24 120.16 L438.64 121.36 L439.05 122.56 L439.45 123.78 L439.86 125 L440.26 126.21 L440.67 127.43 L441.07 128.63 L441.48 129.83 L441.88 131.01 L442.29 132.17 L442.69 133.31 L443.1 134.43 L443.5 135.52 L443.91 136.58 L444.31 137.6 L444.72 138.59 L445.12 139.54 L445.53 140.45 L445.93 141.31 L446.34 142.13 L446.74 142.9 L447.15 143.61 L447.55 144.27 L447.96 144.88 L448.36 145.43 L448.77 145.92 L449.17 146.34 L449.58 146.71 L449.98 147.02 L450.39 147.26 L450.79 147.44 L451.2 147.55 L451.6 147.6 L452.01 147.58 L452.41 147.5 L452.82 147.35 L453.22 147.14 L453.63 146.87 L454.03 146.53 L454.44 146.13 L454.84 145.67 L455.25 145.15 L455.65 144.57 L456.06 143.94 L456.46 143.25 L456.87 142.51 L457.27 141.71 L457.68 140.87 L458.08 139.99 L458.49 139.06 L458.89 138.09 L459.3 137.08 L459.7 136.04 L460.11 134.96 L460.51 133.86 L460.92 132.73 L461.32 131.57 L461.73 130.4 L462.13 129.21 L462.54 128.01 L462.94 126.8 L463.35 125.59 L463.75 124.37 L464.16 123.15 L464.56 121.94 L464.97 120.74 L465.37 119.54 L465.78 118.37 L466.18 117.21 L466.59 116.07 L466.99 114.96 L467.4 113.87 L467.8 112.82 L468.21 111.8 L468.61 110.82 L469.02 109.88 L469.42 108.98 L469.83 108.13 L470.23 107.32 L470.64 106.56 L471.04 105.86 L471.45 105.21 L471.85 104.61 L472.26 104.08 L472.66 103.6 L473.07 103.18 L473.47 102.82 L473.88 102.53 L474.28 102.3 L474.69 102.14 L475.09 102.04 L475.5 102 L475.9 102.03 L476.31 102.12 L476.71 102.28 L477.12 102.51 L477.52 102.79 L477.93 103.14 L478.33 103.55 L478.74 104.03 L479.14 104.56 L479.55 105.15 L479.95 105.79 L480.36 106.49 L480.76 107.24 L481.17 108.04 L481.57 108.89 L481.98 109.79 L482.38 110.73 L482.79 111.7 L483.19 112.72 L483.6 113.77 L484 114.85 L484.41 115.96 L484.81 117.1 L485.22 118.25 L485.62 119.43 L486.03 120.62 L486.43 121.82 L486.84 123.03 L487.24 124.25 L487.65 125.47 L488.05 126.68 L488.46 127.89 L488.86 129.1 L489.27 130.28 L489.67 131.46 L490.08 132.61 L490.48 133.75 L490.89 134.85 L491.29 135.93 L491.7 136.98 L492.1 137.99 L492.51 138.96 L492.91 139.9 L493.32 140.79 L493.72 141.63 L494.13 142.43 L494.53 143.18 L494.94 143.87 L495.34 144.51 L495.75 145.1 L496.15 145.62 L496.56 146.09 L496.96 146.49 L497.37 146.84 L497.77 147.12 L498.18 147.34 L498.58 147.49 L498.99 147.58 L499.39 147.6 L499.8 147.56 L500.2 147.45 L500.61 147.28 L501.01 147.04 L501.42 146.74 L501.82 146.38 L502.23 145.96 L502.63 145.48 L503.04 144.93 L503.44 144.33 L503.85 143.68 L504.25 142.97 L504.66 142.21 L505.06 141.4 L505.47 140.54 L505.87 139.63 L506.28 138.69 L506.68 137.7 L507.09 136.68 L507.49 135.62 L507.9 134.54 L508.3 133.42 L508.71 132.28 L509.11 131.12 L509.52 129.94 L509.92 128.75 L510.33 127.55 L510.73 126.33 L511.14 125.12 L511.54 123.9 L511.95 122.68 L512.35 121.47 L512.76 120.27 L513.16 119.09 L513.57 117.92 L513.97 116.77 L514.38 115.64 L514.78 114.54 L515.19 113.46 L515.59 112.42 L516 111.42" fill="none" stroke="#3d7fc6" stroke-width="1.3" stroke-linejoin="round" />
<text x="309.3" y="129.8" font-size="14" text-anchor="end" >0</text>
<text x="0" y="0" font-size="14" text-anchor="middle" transform="translate(291.2 125.9) rotate(-90)">Polarity</text>
<line x1="317.4" y1="221.6" x2="516" y2="221.6" stroke="#505050" stroke-width="1.1" stroke-dasharray="1.5 2.35"/>
<line x1="313.9" y1="176" x2="313.9" y2="221.6" stroke="#000" stroke-width="1.4" />
<line x1="516" y1="176" x2="516" y2="221.6" stroke="#000" stroke-width="1.4" />
<line x1="512.5" y1="221.6" x2="516" y2="221.6" stroke="#000" stroke-width="1.1" />
<line x1="313.9" y1="221.6" x2="317.4" y2="221.6" stroke="#000" stroke-width="1.1" />
<path d="M313.9 221.6 L314.31 221.6 L314.71 221.6 L315.12 221.6 L315.52 221.6 L315.93 221.6 L316.33 221.6 L316.74 221.6 L317.14 221.6 L317.55 221.6 L317.95 221.6 L318.36 221.6 L318.76 221.6 L319.17 221.6 L319.57 221.6 L319.98 221.6 L320.38 221.6 L320.79 221.6 L321.19 221.6 L321.6 221.6 L322 221.6 L322.41 221.6 L322.81 221.6 L323.22 221.6 L323.62 221.6 L324.03 221.6 L324.43 221.6 L324.84 221.6 L325.24 221.6 L325.65 221.6 L326.05 221.6 L326.46 221.6 L326.86 221.6 L327.27 221.6 L327.67 221.59 L328.08 221.54 L328.48 221.41 L328.89 221.23 L329.29 220.97 L329.7 220.66 L330.1 220.28 L330.51 219.84 L330.91 219.34 L331.32 218.79 L331.72 218.17 L332.13 217.5 L332.53 216.78 L332.94 216.01 L333.34 215.18 L333.75 214.31 L334.15 213.4 L334.56 212.44 L334.96 211.45 L335.37 210.42 L335.77 209.35 L336.18 208.26 L336.58 207.14 L336.99 205.99 L337.39 204.83 L337.8 203.64 L338.2 202.45 L338.61 201.24 L339.01 200.03 L339.42 198.81 L339.82 197.59 L340.23 196.38 L340.63 195.17 L341.04 193.97 L341.44 192.79 L341.85 191.63 L342.25 190.48 L342.66 189.36 L343.06 188.26 L343.47 187.2 L343.87 186.17 L344.28 185.17 L344.68 184.22 L345.09 183.3 L345.49 182.43 L345.9 181.61 L346.3 180.83 L346.71 180.11 L347.11 179.44 L347.52 178.82 L347.92 178.26 L348.33 177.76 L348.73 177.32 L349.14 176.95 L349.54 176.63 L349.95 176.38 L350.35 176.19 L350.76 176.06 L351.16 176.01 L351.57 176.01 L351.97 176.08 L352.38 176.22 L352.78 176.42 L353.19 176.68 L353.59 177.01 L354 177.4 L354.4 177.85 L354.81 178.36 L355.21 178.93 L355.62 179.55 L356.02 180.23 L356.43 180.96 L356.83 181.75 L357.24 182.58 L357.64 183.46 L358.05 184.38 L358.45 185.35 L358.86 186.35 L359.26 187.39 L359.67 188.46 L360.07 189.56 L360.48 190.68 L360.88 191.83 L361.29 193 L361.69 194.19 L362.1 195.38 L362.5 196.59 L362.91 197.81 L363.31 199.03 L363.72 200.24 L364.12 201.46 L364.53 202.66 L364.93 203.86 L365.34 205.04 L365.74 206.2 L366.15 207.34 L366.55 208.45 L366.96 209.54 L367.36 210.6 L367.77 211.63 L368.17 212.62 L368.58 213.56 L368.98 214.47 L369.39 215.33 L369.79 216.15 L370.2 216.91 L370.6 217.63 L371.01 218.29 L371.41 218.89 L371.82 219.44 L372.22 219.93 L372.63 220.35 L373.03 220.72 L373.44 221.02 L373.84 221.26 L374.25 221.44 L374.65 221.55 L375.06 221.6 L375.46 221.58 L375.87 221.5 L376.27 221.35 L376.68 221.14 L377.08 220.86 L377.49 220.52 L377.89 220.12 L378.3 219.66 L378.7 219.14 L379.11 218.56 L379.51 217.92 L379.92 217.23 L380.32 216.49 L380.73 215.69 L381.13 214.85 L381.54 213.97 L381.94 213.04 L382.35 212.06 L382.75 211.05 L383.16 210.01 L383.56 208.93 L383.97 207.83 L384.37 206.7 L384.78 205.55 L385.18 204.37 L385.59 203.18 L385.99 201.98 L386.4 200.77 L386.8 199.56 L387.21 198.34 L387.61 197.12 L388.02 195.91 L388.42 194.71 L388.83 193.52 L389.23 192.34 L389.64 191.18 L390.04 190.04 L390.45 188.93 L390.85 187.85 L391.26 186.8 L391.66 185.78 L392.07 184.8 L392.47 183.86 L392.88 182.96 L393.28 182.11 L393.69 181.3 L394.09 180.55 L394.5 179.84 L394.9 179.19 L395.31 178.6 L395.71 178.06 L396.12 177.59 L396.52 177.17 L396.93 176.82 L397.33 176.53 L397.74 176.3 L398.14 176.13 L398.55 176.03 L398.95 176 L399.36 176.03 L399.76 176.13 L400.17 176.29 L400.57 176.51 L400.98 176.8 L401.38 177.15 L401.79 177.56 L402.19 178.04 L402.6 178.57 L403 179.16 L403.41 179.81 L403.81 180.51 L404.22 181.26 L404.62 182.06 L405.03 182.91 L405.43 183.81 L405.84 184.75 L406.24 185.73 L406.65 186.74 L407.05 187.79 L407.46 188.88 L407.86 189.99 L408.27 191.12 L408.67 192.28 L409.08 193.46 L409.48 194.65 L409.89 195.85 L410.29 197.06 L410.7 198.28 L411.1 199.5 L411.51 200.71 L411.91 201.92 L412.32 203.12 L412.72 204.31 L413.13 205.49 L413.53 206.64 L413.94 207.77 L414.34 208.88 L414.75 209.96 L415.15 211 L415.56 212.01 L415.96 212.99 L416.37 213.92 L416.77 214.81 L417.18 215.65 L417.58 216.45 L417.99 217.19 L418.39 217.89 L418.8 218.53 L419.2 219.11 L419.61 219.63 L420.01 220.1 L420.42 220.5 L420.82 220.84 L421.23 221.12 L421.63 221.34 L422.04 221.49 L422.44 221.58 L422.85 221.6 L423.25 221.56 L423.66 221.45 L424.06 221.27 L424.47 221.04 L424.87 220.74 L425.28 220.37 L425.68 219.95 L426.09 219.46 L426.49 218.92 L426.9 218.32 L427.3 217.66 L427.71 216.95 L428.11 216.19 L428.52 215.38 L428.92 214.52 L429.33 213.61 L429.73 212.67 L430.14 211.68 L430.54 210.66 L430.95 209.6 L431.35 208.51 L431.76 207.4 L432.16 206.26 L432.57 205.1 L432.97 203.92 L433.38 202.72 L433.78 201.52 L434.19 200.3 L434.59 199.09 L435 197.87 L435.4 196.66 L435.81 195.45 L436.21 194.25 L436.62 193.06 L437.02 191.89 L437.43 190.74 L437.83 189.61 L438.24 188.51 L438.64 187.44 L439.05 186.4 L439.45 185.4 L439.86 184.43 L440.26 183.51 L440.67 182.62 L441.07 181.79 L441.48 181 L441.88 180.27 L442.29 179.59 L442.69 178.96 L443.1 178.39 L443.5 177.87 L443.91 177.42 L444.31 177.03 L444.72 176.7 L445.12 176.43 L445.53 176.23 L445.93 176.09 L446.34 176.01 L446.74 176 L447.15 176.06 L447.55 176.18 L447.96 176.37 L448.36 176.62 L448.77 176.93 L449.17 177.3 L449.58 177.74 L449.98 178.24 L450.39 178.79 L450.79 179.4 L451.2 180.07 L451.6 180.79 L452.01 181.56 L452.41 182.39 L452.82 183.25 L453.22 184.17 L453.63 185.12 L454.03 186.12 L454.44 187.15 L454.84 188.21 L455.25 189.3 L455.65 190.42 L456.06 191.57 L456.46 192.73 L456.87 193.91 L457.27 195.11 L457.68 196.32 L458.08 197.53 L458.49 198.75 L458.89 199.96 L459.3 201.18 L459.7 202.39 L460.11 203.58 L460.51 204.77 L460.92 205.93 L461.32 207.08 L461.73 208.2 L462.13 209.3 L462.54 210.36 L462.94 211.4 L463.35 212.39 L463.75 213.35 L464.16 214.27 L464.56 215.14 L464.97 215.97 L465.37 216.74 L465.78 217.47 L466.18 218.14 L466.59 218.76 L466.99 219.32 L467.4 219.82 L467.8 220.26 L468.21 220.64 L468.61 220.96 L469.02 221.21 L469.42 221.41 L469.83 221.53 L470.23 221.59 L470.64 221.59 L471.04 221.52 L471.45 221.39 L471.85 221.19 L472.26 220.93 L472.66 220.6 L473.07 220.22 L473.47 219.77 L473.88 219.26 L474.28 218.69 L474.69 218.07 L475.09 217.39 L475.5 216.66 L475.9 215.88 L476.31 215.05 L476.71 214.17 L477.12 213.25 L477.52 212.29 L477.93 211.29 L478.33 210.25 L478.74 209.18 L479.14 208.08 L479.55 206.96 L479.95 205.81 L480.36 204.64 L480.76 203.46 L481.17 202.26 L481.57 201.05 L481.98 199.84 L482.38 198.62 L482.79 197.4 L483.19 196.19 L483.6 194.98 L484 193.79 L484.41 192.61 L484.81 191.44 L485.22 190.3 L485.62 189.18 L486.03 188.09 L486.43 187.03 L486.84 186.01 L487.24 185.02 L487.65 184.07 L488.05 183.16 L488.46 182.3 L488.86 181.48 L489.27 180.71 L489.67 180 L490.08 179.34 L490.48 178.73 L490.89 178.18 L491.29 177.69 L491.7 177.26 L492.1 176.89 L492.51 176.59 L492.91 176.34 L493.32 176.17 L493.72 176.05 L494.13 176 L494.53 176.02 L494.94 176.1 L495.34 176.24 L495.75 176.45 L496.15 176.73 L496.56 177.07 L496.96 177.46 L497.37 177.92 L497.77 178.44 L498.18 179.02 L498.58 179.65 L498.99 180.34 L499.39 181.08 L499.8 181.88 L500.2 182.72 L500.61 183.6 L501.01 184.53 L501.42 185.5 L501.82 186.51 L502.23 187.55 L502.63 188.63 L503.04 189.73 L503.44 190.86 L503.85 192.01 L504.25 193.18 L504.66 194.37 L505.06 195.57 L505.47 196.78 L505.87 198 L506.28 199.22 L506.68 200.43 L507.09 201.65 L507.49 202.85 L507.9 204.04 L508.3 205.22 L508.71 206.38 L509.11 207.52 L509.52 208.63 L509.92 209.71 L510.33 210.77 L510.73 211.78 L511.14 212.77 L511.54 213.71 L511.95 214.61 L512.35 215.46 L512.76 216.27 L513.16 217.03 L513.57 217.73 L513.97 218.38 L514.38 218.98 L514.78 219.52 L515.19 220 L515.59 220.41 L516 220.77" fill="none" stroke="#55b348" stroke-width="1.3" stroke-linejoin="round" />
<text x="309.3" y="226.6" font-size="14" text-anchor="end" >0</text>
<text x="0" y="0" font-size="14" text-anchor="middle" transform="translate(291.2 199.1) rotate(-90)">Motility</text>
<line x1="317.4" y1="261.33" x2="516" y2="261.33" stroke="#505050" stroke-width="1.1" stroke-dasharray="1.5 2.35"/>
<line x1="313.9" y1="249.8" x2="313.9" y2="295.3" stroke="#000" stroke-width="1.4" />
<line x1="516" y1="249.8" x2="516" y2="295.3" stroke="#000" stroke-width="1.4" />
<line x1="512.5" y1="261.33" x2="516" y2="261.33" stroke="#000" stroke-width="1.1" />
<line x1="313.9" y1="261.33" x2="317.4" y2="261.33" stroke="#000" stroke-width="1.1" />
<path d="M313.9 261.33 L314.31 261.33 L314.71 261.33 L315.12 261.33 L315.52 261.33 L315.93 261.33 L316.33 261.33 L316.74 261.33 L317.14 261.33 L317.55 261.33 L317.95 261.33 L318.36 261.33 L318.76 261.33 L319.17 261.33 L319.57 261.33 L319.98 261.33 L320.38 261.33 L320.79 261.33 L321.19 261.33 L321.6 261.33 L322 261.33 L322.41 261.33 L322.81 261.33 L323.22 261.33 L323.62 261.33 L324.03 261.33 L324.43 261.33 L324.84 261.33 L325.24 261.33 L325.65 261.33 L326.05 261.33 L326.46 261.33 L326.86 261.33 L327.27 261.33 L327.67 261.33 L328.08 261.29 L328.48 261.2 L328.89 261.07 L329.29 260.88 L329.7 260.63 L330.1 260.33 L330.51 259.98 L330.91 259.57 L331.32 259.11 L331.72 258.6 L332.13 258.05 L332.53 257.46 L332.94 256.84 L333.34 256.2 L333.75 255.54 L334.15 254.88 L334.56 254.21 L334.96 253.56 L335.37 252.93 L335.77 252.33 L336.18 251.77 L336.58 251.26 L336.99 250.82 L337.39 250.44 L337.8 250.14 L338.2 249.93 L338.61 249.82 L339.01 249.81 L339.42 249.9 L339.82 250.12 L340.23 250.45 L340.63 250.9 L341.04 251.48 L341.44 252.18 L341.85 253 L342.25 253.95 L342.66 255.02 L343.06 256.2 L343.47 257.49 L343.87 258.89 L344.28 260.38 L344.68 261.96 L345.09 263.62 L345.49 265.34 L345.9 267.12 L346.3 268.95 L346.71 270.81 L347.11 272.68 L347.52 274.56 L347.92 276.43 L348.33 278.28 L348.73 280.09 L349.14 281.85 L349.54 283.55 L349.95 285.18 L350.35 286.71 L350.76 288.15 L351.16 289.48 L351.57 290.69 L351.97 291.77 L352.38 292.72 L352.78 293.52 L353.19 294.18 L353.59 294.69 L354 295.05 L354.4 295.25 L354.81 295.3 L355.21 295.19 L355.62 294.94 L356.02 294.54 L356.43 294 L356.83 293.32 L357.24 292.52 L357.64 291.6 L358.05 290.57 L358.45 289.45 L358.86 288.23 L359.26 286.94 L359.67 285.59 L360.07 284.18 L360.48 282.73 L360.88 281.26 L361.29 279.77 L361.69 278.28 L362.1 276.79 L362.5 275.33 L362.91 273.9 L363.31 272.51 L363.72 271.17 L364.12 269.89 L364.53 268.67 L364.93 267.53 L365.34 266.47 L365.74 265.49 L366.15 264.6 L366.55 263.8 L366.96 263.09 L367.36 262.47 L367.77 261.94 L368.17 261.49 L368.58 261.13 L368.98 260.85 L369.39 260.64 L369.79 260.5 L370.2 260.42 L370.6 260.39 L371.01 260.42 L371.41 260.47 L371.82 260.56 L372.22 260.67 L372.63 260.8 L373.03 260.92 L373.44 261.04 L373.84 261.15 L374.25 261.24 L374.65 261.3 L375.06 261.33 L375.46 261.32 L375.87 261.26 L376.27 261.16 L376.68 261 L377.08 260.79 L377.49 260.52 L377.89 260.2 L378.3 259.82 L378.7 259.39 L379.11 258.91 L379.51 258.39 L379.92 257.82 L380.32 257.22 L380.73 256.6 L381.13 255.95 L381.54 255.28 L381.94 254.62 L382.35 253.96 L382.75 253.31 L383.16 252.69 L383.56 252.11 L383.97 251.57 L384.37 251.08 L384.78 250.66 L385.18 250.31 L385.59 250.05 L385.99 249.88 L386.4 249.8 L386.8 249.83 L387.21 249.97 L387.61 250.23 L388.02 250.61 L388.42 251.11 L388.83 251.73 L389.23 252.48 L389.64 253.35 L390.04 254.35 L390.45 255.46 L390.85 256.68 L391.26 258.02 L391.66 259.45 L392.07 260.98 L392.47 262.59 L392.88 264.28 L393.28 266.02 L393.69 267.82 L394.09 269.66 L394.5 271.53 L394.9 273.41 L395.31 275.28 L395.71 277.15 L396.12 278.98 L396.52 280.78 L396.93 282.52 L397.33 284.19 L397.74 285.78 L398.14 287.28 L398.55 288.68 L398.95 289.96 L399.36 291.12 L399.76 292.15 L400.17 293.05 L400.57 293.8 L400.98 294.4 L401.38 294.85 L401.79 295.14 L402.19 295.29 L402.6 295.28 L403 295.11 L403.41 294.8 L403.81 294.35 L404.22 293.75 L404.62 293.03 L405.03 292.18 L405.43 291.22 L405.84 290.15 L406.24 288.99 L406.65 287.74 L407.05 286.43 L407.46 285.05 L407.86 283.63 L408.27 282.17 L408.67 280.68 L409.08 279.19 L409.48 277.7 L409.89 276.22 L410.29 274.77 L410.7 273.36 L411.1 271.98 L411.51 270.67 L411.91 269.41 L412.32 268.22 L412.72 267.11 L413.13 266.08 L413.53 265.14 L413.94 264.28 L414.34 263.52 L414.75 262.84 L415.15 262.26 L415.56 261.76 L415.96 261.34 L416.37 261.01 L416.77 260.76 L417.18 260.58 L417.58 260.46 L417.99 260.4 L418.39 260.4 L418.8 260.43 L419.2 260.51 L419.61 260.6 L420.01 260.72 L420.42 260.84 L420.82 260.97 L421.23 261.09 L421.63 261.19 L422.04 261.27 L422.44 261.32 L422.85 261.33 L423.25 261.3 L423.66 261.23 L424.06 261.1 L424.47 260.93 L424.87 260.69 L425.28 260.4 L425.68 260.06 L426.09 259.66 L426.49 259.21 L426.9 258.72 L427.3 258.18 L427.71 257.6 L428.11 256.98 L428.52 256.35 L428.92 255.69 L429.33 255.03 L429.73 254.36 L430.14 253.71 L430.54 253.07 L430.95 252.46 L431.35 251.89 L431.76 251.37 L432.16 250.91 L432.57 250.52 L432.97 250.2 L433.38 249.97 L433.78 249.84 L434.19 249.8 L434.59 249.87 L435 250.06 L435.4 250.36 L435.81 250.79 L436.21 251.33 L436.62 252.01 L437.02 252.8 L437.43 253.72 L437.83 254.76 L438.24 255.92 L438.64 257.19 L439.05 258.56 L439.45 260.03 L439.86 261.59 L440.26 263.23 L440.67 264.94 L441.07 266.71 L441.48 268.53 L441.88 270.38 L442.29 272.25 L442.69 274.13 L443.1 276 L443.5 277.86 L443.91 279.68 L444.31 281.45 L444.72 283.17 L445.12 284.81 L445.53 286.37 L445.93 287.83 L446.34 289.19 L446.74 290.42 L447.15 291.54 L447.55 292.51 L447.96 293.35 L448.36 294.05 L448.77 294.59 L449.17 294.98 L449.58 295.22 L449.98 295.3 L450.39 295.23 L450.79 295.01 L451.2 294.64 L451.6 294.13 L452.01 293.49 L452.41 292.72 L452.82 291.82 L453.22 290.82 L453.63 289.71 L454.03 288.52 L454.44 287.24 L454.84 285.9 L455.25 284.51 L455.65 283.07 L456.06 281.6 L456.46 280.11 L456.87 278.62 L457.27 277.13 L457.68 275.66 L458.08 274.22 L458.49 272.82 L458.89 271.47 L459.3 270.17 L459.7 268.94 L460.11 267.79 L460.51 266.71 L460.92 265.71 L461.32 264.8 L461.73 263.98 L462.13 263.25 L462.54 262.61 L462.94 262.05 L463.35 261.59 L463.75 261.21 L464.16 260.91 L464.56 260.68 L464.97 260.53 L465.37 260.43 L465.78 260.4 L466.18 260.41 L466.59 260.46 L466.99 260.54 L467.4 260.65 L467.8 260.77 L468.21 260.89 L468.61 261.02 L469.02 261.13 L469.42 261.22 L469.83 261.29 L470.23 261.33 L470.64 261.33 L471.04 261.28 L471.45 261.19 L471.85 261.04 L472.26 260.84 L472.66 260.59 L473.07 260.28 L473.47 259.91 L473.88 259.5 L474.28 259.03 L474.69 258.51 L475.09 257.96 L475.5 257.36 L475.9 256.74 L476.31 256.1 L476.71 255.44 L477.12 254.77 L477.52 254.11 L477.93 253.46 L478.33 252.83 L478.74 252.24 L479.14 251.69 L479.55 251.19 L479.95 250.75 L480.36 250.39 L480.76 250.1 L481.17 249.91 L481.57 249.81 L481.98 249.81 L482.38 249.93 L482.79 250.16 L483.19 250.51 L483.6 250.98 L484 251.58 L484.41 252.3 L484.81 253.14 L485.22 254.11 L485.62 255.19 L486.03 256.39 L486.43 257.7 L486.84 259.12 L487.24 260.62 L487.65 262.22 L488.05 263.88 L488.46 265.62 L488.86 267.41 L489.27 269.24 L489.67 271.1 L490.08 272.98 L490.48 274.85 L490.89 276.72 L491.29 278.57 L491.7 280.37 L492.1 282.12 L492.51 283.81 L492.91 285.42 L493.32 286.95 L493.72 288.37 L494.13 289.68 L494.53 290.87 L494.94 291.93 L495.34 292.85 L495.75 293.64 L496.15 294.27 L496.56 294.76 L496.96 295.09 L497.37 295.27 L497.77 295.29 L498.18 295.16 L498.58 294.89 L498.99 294.46 L499.39 293.9 L499.8 293.21 L500.2 292.39 L500.61 291.45 L501.01 290.4 L501.42 289.26 L501.82 288.04 L502.23 286.73 L502.63 285.37 L503.04 283.96 L503.44 282.5 L503.85 281.02 L504.25 279.53 L504.66 278.04 L505.06 276.56 L505.47 275.1 L505.87 273.68 L506.28 272.29 L506.68 270.96 L507.09 269.69 L507.49 268.49 L507.9 267.36 L508.3 266.31 L508.71 265.35 L509.11 264.47 L509.52 263.69 L509.92 262.99 L510.33 262.38 L510.73 261.86 L511.14 261.43 L511.54 261.08 L511.95 260.81 L512.35 260.61 L512.76 260.48 L513.16 260.41 L513.57 260.39 L513.97 260.42 L514.38 260.49 L514.78 260.58 L515.19 260.69 L515.59 260.82 L516 260.94" fill="none" stroke="#e3262b" stroke-width="1.3" stroke-linejoin="round" />
<text x="309.3" y="266.33" font-size="14" text-anchor="end" >0</text>
<text x="0" y="0" font-size="14" text-anchor="middle" transform="translate(289.5 273.05) rotate(-90)">Velocity</text>
<line x1="317.4" y1="327.53" x2="516" y2="327.53" stroke="#505050" stroke-width="1.1" stroke-dasharray="1.5 2.35"/>
<line x1="313.9" y1="324.4" x2="313.9" y2="368.9" stroke="#000" stroke-width="1.4" />
<line x1="516" y1="324.4" x2="516" y2="368.9" stroke="#000" stroke-width="1.4" />
<line x1="512.5" y1="327.53" x2="516" y2="327.53" stroke="#000" stroke-width="1.1" />
<line x1="313.9" y1="327.53" x2="317.4" y2="327.53" stroke="#000" stroke-width="1.1" />
<path d="M313.9 327.53 L314.31 327.53 L314.71 327.53 L315.12 327.53 L315.52 327.53 L315.93 327.53 L316.33 327.53 L316.74 327.53 L317.14 327.53 L317.55 327.53 L317.95 327.53 L318.36 327.53 L318.76 327.53 L319.17 327.53 L319.57 327.53 L319.98 327.53 L320.38 327.53 L320.79 327.53 L321.19 327.53 L321.6 327.53 L322 327.53 L322.41 327.53 L322.81 327.53 L323.22 327.53 L323.62 327.53 L324.03 327.53 L324.43 327.53 L324.84 327.53 L325.24 327.53 L325.65 327.53 L326.05 327.53 L326.46 327.53 L326.86 327.53 L327.27 327.53 L327.67 327.53 L328.08 327.53 L328.48 327.53 L328.89 327.53 L329.29 327.53 L329.7 327.52 L330.1 327.51 L330.51 327.49 L330.91 327.47 L331.32 327.45 L331.72 327.42 L332.13 327.38 L332.53 327.34 L332.94 327.29 L333.34 327.23 L333.75 327.16 L334.15 327.09 L334.56 327 L334.96 326.91 L335.37 326.81 L335.77 326.71 L336.18 326.59 L336.58 326.47 L336.99 326.35 L337.39 326.22 L337.8 326.08 L338.2 325.94 L338.61 325.8 L339.01 325.66 L339.42 325.52 L339.82 325.38 L340.23 325.25 L340.63 325.12 L341.04 324.99 L341.44 324.87 L341.85 324.77 L342.25 324.67 L342.66 324.59 L343.06 324.52 L343.47 324.46 L343.87 324.42 L344.28 324.4 L344.68 324.4 L345.09 324.42 L345.49 324.46 L345.9 324.52 L346.3 324.6 L346.71 324.71 L347.11 324.83 L347.52 324.98 L347.92 325.16 L348.33 325.35 L348.73 325.57 L349.14 325.81 L349.54 326.07 L349.95 326.36 L350.35 326.66 L350.76 326.98 L351.16 327.31 L351.57 327.67 L351.97 328.03 L352.38 328.41 L352.78 328.8 L353.19 329.2 L353.59 329.6 L354 330.02 L354.4 330.43 L354.81 330.84 L355.21 331.26 L355.62 331.67 L356.02 332.08 L356.43 332.49 L356.83 332.88 L357.24 333.27 L357.64 333.64 L358.05 334.01 L358.45 334.36 L358.86 334.7 L359.26 335.02 L359.67 335.32 L360.07 335.61 L360.48 335.88 L360.88 336.13 L361.29 336.37 L361.69 336.59 L362.1 336.78 L362.5 336.96 L362.91 337.13 L363.31 337.27 L363.72 337.4 L364.12 337.51 L364.53 337.61 L364.93 337.69 L365.34 337.76 L365.74 337.82 L366.15 337.86 L366.55 337.9 L366.96 337.92 L367.36 337.94 L367.77 337.95 L368.17 337.96 L368.58 337.96 L368.98 337.95 L369.39 337.94 L369.79 337.93 L370.2 337.92 L370.6 337.91 L371.01 337.9 L371.41 337.89 L371.82 337.88 L372.22 337.87 L372.63 337.86 L373.03 337.86 L373.44 337.85 L373.84 337.85 L374.25 337.85 L374.65 337.85 L375.06 337.85 L375.46 337.85 L375.87 337.85 L376.27 337.85 L376.68 337.84 L377.08 337.84 L377.49 337.83 L377.89 337.82 L378.3 337.8 L378.7 337.78 L379.11 337.75 L379.51 337.72 L379.92 337.68 L380.32 337.64 L380.73 337.58 L381.13 337.52 L381.54 337.45 L381.94 337.37 L382.35 337.28 L382.75 337.19 L383.16 337.09 L383.56 336.98 L383.97 336.86 L384.37 336.74 L384.78 336.61 L385.18 336.48 L385.59 336.34 L385.99 336.2 L386.4 336.06 L386.8 335.92 L387.21 335.78 L387.61 335.64 L388.02 335.51 L388.42 335.38 L388.83 335.26 L389.23 335.15 L389.64 335.04 L390.04 334.95 L390.45 334.87 L390.85 334.81 L391.26 334.76 L391.66 334.73 L392.07 334.72 L392.47 334.72 L392.88 334.75 L393.28 334.79 L393.69 334.86 L394.09 334.95 L394.5 335.07 L394.9 335.2 L395.31 335.36 L395.71 335.54 L396.12 335.75 L396.52 335.98 L396.93 336.23 L397.33 336.5 L397.74 336.79 L398.14 337.09 L398.55 337.42 L398.95 337.76 L399.36 338.12 L399.76 338.49 L400.17 338.88 L400.57 339.27 L400.98 339.67 L401.38 340.08 L401.79 340.49 L402.19 340.9 L402.6 341.32 L403 341.73 L403.41 342.15 L403.81 342.55 L404.22 342.95 L404.62 343.35 L405.03 343.73 L405.43 344.1 L405.84 344.46 L406.24 344.81 L406.65 345.14 L407.05 345.45 L407.46 345.75 L407.86 346.03 L408.27 346.3 L408.67 346.54 L409.08 346.77 L409.48 346.98 L409.89 347.17 L410.29 347.34 L410.7 347.5 L411.1 347.64 L411.51 347.76 L411.91 347.87 L412.32 347.96 L412.72 348.03 L413.13 348.1 L413.53 348.15 L413.94 348.19 L414.34 348.22 L414.75 348.25 L415.15 348.26 L415.56 348.27 L415.96 348.27 L416.37 348.27 L416.77 348.26 L417.18 348.25 L417.58 348.24 L417.99 348.23 L418.39 348.22 L418.8 348.21 L419.2 348.2 L419.61 348.19 L420.01 348.18 L420.42 348.18 L420.82 348.17 L421.23 348.17 L421.63 348.16 L422.04 348.16 L422.44 348.16 L422.85 348.16 L423.25 348.16 L423.66 348.16 L424.06 348.16 L424.47 348.16 L424.87 348.15 L425.28 348.14 L425.68 348.13 L426.09 348.11 L426.49 348.09 L426.9 348.06 L427.3 348.02 L427.71 347.98 L428.11 347.93 L428.52 347.87 L428.92 347.81 L429.33 347.73 L429.73 347.65 L430.14 347.56 L430.54 347.47 L430.95 347.36 L431.35 347.25 L431.76 347.13 L432.16 347.01 L432.57 346.88 L432.97 346.74 L433.38 346.6 L433.78 346.46 L434.19 346.32 L434.59 346.18 L435 346.04 L435.4 345.91 L435.81 345.77 L436.21 345.65 L436.62 345.53 L437.02 345.42 L437.43 345.32 L437.83 345.23 L438.24 345.16 L438.64 345.1 L439.05 345.06 L439.45 345.04 L439.86 345.03 L440.26 345.04 L440.67 345.08 L441.07 345.13 L441.48 345.21 L441.88 345.31 L442.29 345.43 L442.69 345.58 L443.1 345.74 L443.5 345.94 L443.91 346.15 L444.31 346.38 L444.72 346.64 L445.12 346.92 L445.53 347.22 L445.93 347.53 L446.34 347.87 L446.74 348.21 L447.15 348.58 L447.55 348.95 L447.96 349.34 L448.36 349.74 L448.77 350.14 L449.17 350.55 L449.58 350.96 L449.98 351.38 L450.39 351.79 L450.79 352.21 L451.2 352.62 L451.6 353.02 L452.01 353.42 L452.41 353.81 L452.82 354.19 L453.22 354.56 L453.63 354.91 L454.03 355.25 L454.44 355.57 L454.84 355.88 L455.25 356.18 L455.65 356.45 L456.06 356.71 L456.46 356.95 L456.87 357.17 L457.27 357.37 L457.68 357.55 L458.08 357.72 L458.49 357.87 L458.89 358 L459.3 358.12 L459.7 358.22 L460.11 358.3 L460.51 358.37 L460.92 358.43 L461.32 358.48 L461.73 358.52 L462.13 358.55 L462.54 358.57 L462.94 358.58 L463.35 358.58 L463.75 358.59 L464.16 358.58 L464.56 358.57 L464.97 358.57 L465.37 358.56 L465.78 358.54 L466.18 358.53 L466.59 358.52 L466.99 358.51 L467.4 358.5 L467.8 358.49 L468.21 358.49 L468.61 358.48 L469.02 358.48 L469.42 358.48 L469.83 358.48 L470.23 358.48 L470.64 358.48 L471.04 358.48 L471.45 358.48 L471.85 358.47 L472.26 358.47 L472.66 358.46 L473.07 358.45 L473.47 358.44 L473.88 358.42 L474.28 358.39 L474.69 358.36 L475.09 358.32 L475.5 358.28 L475.9 358.22 L476.31 358.16 L476.71 358.09 L477.12 358.02 L477.52 357.93 L477.93 357.84 L478.33 357.74 L478.74 357.63 L479.14 357.52 L479.55 357.4 L479.95 357.27 L480.36 357.14 L480.76 357 L481.17 356.86 L481.57 356.72 L481.98 356.58 L482.38 356.44 L482.79 356.3 L483.19 356.17 L483.6 356.04 L484 355.92 L484.41 355.8 L484.81 355.7 L485.22 355.6 L485.62 355.52 L486.03 355.45 L486.43 355.4 L486.84 355.36 L487.24 355.35 L487.65 355.35 L488.05 355.37 L488.46 355.41 L488.86 355.47 L489.27 355.56 L489.67 355.67 L490.08 355.8 L490.48 355.95 L490.89 356.13 L491.29 356.33 L491.7 356.55 L492.1 356.8 L492.51 357.06 L492.91 357.35 L493.32 357.65 L493.72 357.97 L494.13 358.31 L494.53 358.67 L494.94 359.04 L495.34 359.42 L495.75 359.81 L496.15 360.21 L496.56 360.61 L496.96 361.02 L497.37 361.44 L497.77 361.85 L498.18 362.27 L498.58 362.68 L498.99 363.09 L499.39 363.49 L499.8 363.89 L500.2 364.27 L500.61 364.65 L501.01 365.01 L501.42 365.36 L501.82 365.69 L502.23 366.01 L502.63 366.31 L503.04 366.6 L503.44 366.87 L503.85 367.12 L504.25 367.35 L504.66 367.56 L505.06 367.76 L505.47 367.93 L505.87 368.09 L506.28 368.24 L506.68 368.36 L507.09 368.47 L507.49 368.57 L507.9 368.65 L508.3 368.71 L508.71 368.77 L509.11 368.81 L509.52 368.85 L509.92 368.87 L510.33 368.89 L510.73 368.9 L511.14 368.9 L511.54 368.9 L511.95 368.89 L512.35 368.89 L512.76 368.88 L513.16 368.87 L513.57 368.85 L513.97 368.84 L514.38 368.83 L514.78 368.82 L515.19 368.81 L515.59 368.81 L516 368.8" fill="none" stroke="#000" stroke-width="1.3" stroke-linejoin="round" />
<text x="309.3" y="332.53" font-size="14" text-anchor="end" >0</text>
<text x="0" y="0" font-size="14" text-anchor="middle" transform="translate(289.5 348.65) rotate(-90)">Position</text>
<line x1="313.9" y1="365.4" x2="313.9" y2="368.9" stroke="#000" stroke-width="1.3" />
<text x="316.4" y="383.5" font-size="13" text-anchor="middle" >0</text>
<line x1="347.58" y1="365.4" x2="347.58" y2="368.9" stroke="#000" stroke-width="1.3" />
<text x="350.08" y="383.5" font-size="13" text-anchor="middle" >5</text>
<line x1="381.26" y1="365.4" x2="381.26" y2="368.9" stroke="#000" stroke-width="1.3" />
<text x="383.76" y="383.5" font-size="13" text-anchor="middle" >10</text>
<line x1="414.94" y1="365.4" x2="414.94" y2="368.9" stroke="#000" stroke-width="1.3" />
<text x="417.44" y="383.5" font-size="13" text-anchor="middle" >15</text>
<line x1="448.62" y1="365.4" x2="448.62" y2="368.9" stroke="#000" stroke-width="1.3" />
<text x="451.12" y="383.5" font-size="13" text-anchor="middle" >20</text>
<line x1="482.3" y1="365.4" x2="482.3" y2="368.9" stroke="#000" stroke-width="1.3" />
<text x="484.8" y="383.5" font-size="13" text-anchor="middle" >25</text>
<line x1="515.98" y1="365.4" x2="515.98" y2="368.9" stroke="#000" stroke-width="1.3" />
<text x="518.48" y="383.5" font-size="13" text-anchor="middle" >30</text>
<text x="417.4" y="405" font-size="16.4" text-anchor="middle" >Minutes</text>
<line x1="432.5" y1="16.8" x2="432.5" y2="227.5" stroke="#383838" stroke-width="1.0" stroke-dasharray="5 5.3"/>
<line x1="439.5" y1="83.8" x2="439.5" y2="151" stroke="#383838" stroke-width="1.0" stroke-dasharray="5 5.3"/>
<line x1="446.5" y1="159" x2="446.5" y2="230" stroke="#383838" stroke-width="1.0" stroke-dasharray="5 5.3"/>
<line x1="432.99" y1="111" x2="436.99" y2="111" stroke="#2a2a2a" stroke-width="1.0" />
<path d="M439.79 111 L436.49 109.3 L436.49 112.7 Z" fill="#111"/>
<line x1="432.99" y1="199.9" x2="443.8" y2="199.9" stroke="#2a2a2a" stroke-width="1.0" />
<path d="M446.6 199.9 L443.3 198.2 L443.3 201.6 Z" fill="#111"/>
<path d="M442.79 107.6 Q443.99 106.4 445.79 106.5 L448.39 106.4 M445.99 106.7 Q443.89 110.5 444.19 112.2 Q444.59 113.9 446.79 112.9" fill="none" stroke="#000" stroke-width="1.25" stroke-linecap="round"/>
<text x="447.29" y="116.5" font-size="11.5">pol</text>
<path d="M451.1 196.7 Q452.3 195.5 454.1 195.6 L456.7 195.5 M454.3 195.8 Q452.2 199.6 452.5 201.3 Q452.9 203 455.1 202" fill="none" stroke="#000" stroke-width="1.25" stroke-linecap="round"/>
<text x="456.4" y="205.4" font-size="11.5">mot</text>
<text x="264.3" y="12.8" font-size="15.8" text-anchor="start" font-weight="bold">(b)</text>
<rect x="314" y="460.1" width="201.8" height="46.7" fill="#bebebe"/>
<path d="M314 474.81 L314.51 474.64 L315.01 474.46 L315.52 474.29 L316.02 474.12 L316.53 473.94 L317.03 473.77 L317.54 473.59 L318.05 473.41 L318.55 473.24 L319.06 473.06 L319.56 472.88 L320.07 472.7 L320.57 472.53 L321.08 472.35 L321.59 472.17 L322.09 471.99 L322.6 471.81 L323.1 471.64 L323.61 471.46 L324.12 471.28 L324.62 471.1 L325.13 470.93 L325.63 470.75 L326.14 470.57 L326.64 470.4 L327.15 470.22 L327.66 470.05 L328.16 469.87 L328.67 469.7 L329.17 469.52 L329.68 469.35 L330.18 469.18 L330.69 469 L331.2 468.83 L331.7 468.66 L332.21 468.49 L332.71 468.32 L333.22 468.16 L333.72 467.99 L334.23 467.82 L334.74 467.66 L335.24 467.5 L335.75 467.33 L336.25 467.17 L336.76 467.01 L337.27 466.85 L337.77 466.69 L338.28 466.54 L338.78 466.38 L339.29 466.23 L339.79 466.08 L340.3 465.93 L340.81 465.78 L341.31 465.63 L341.82 465.48 L342.32 465.34 L342.83 465.19 L343.33 465.05 L343.84 464.91 L344.35 464.78 L344.85 464.64 L345.36 464.51 L345.86 464.37 L346.37 464.24 L346.87 464.12 L347.38 463.99 L347.89 463.86 L348.39 463.74 L348.9 463.62 L349.4 463.5 L349.91 463.39 L350.42 463.27 L350.92 463.16 L351.43 463.05 L351.93 462.94 L352.44 462.84 L352.94 462.74 L353.45 462.63 L353.96 462.54 L354.46 462.44 L354.97 462.35 L355.47 462.26 L355.98 462.17 L356.48 462.08 L356.99 462 L357.5 461.91 L358 461.84 L358.51 461.76 L359.01 461.68 L359.52 461.61 L360.02 461.54 L360.53 461.48 L361.04 461.41 L361.54 461.35 L362.05 461.3 L362.55 461.24 L363.06 461.19 L363.56 461.14 L364.07 461.09 L364.58 461.04 L365.08 461 L365.59 460.96 L366.09 460.93 L366.6 460.89 L367.11 460.86 L367.61 460.83 L368.12 460.81 L368.62 460.78 L369.13 460.76 L369.63 460.75 L370.14 460.73 L370.65 460.72 L371.15 460.71 L371.66 460.7 L372.16 460.7 L372.67 460.7 L373.17 460.7 L373.68 460.71 L374.19 460.72 L374.69 460.73 L375.2 460.74 L375.7 460.76 L376.21 460.77 L376.71 460.8 L377.22 460.82 L377.73 460.85 L378.23 460.88 L378.74 460.91 L379.24 460.95 L379.75 460.98 L380.26 461.03 L380.76 461.07 L381.27 461.12 L381.77 461.17 L382.28 461.22 L382.78 461.27 L383.29 461.33 L383.8 461.39 L384.3 461.45 L384.81 461.52 L385.31 461.58 L385.82 461.65 L386.32 461.73 L386.83 461.8 L387.34 461.88 L387.84 461.96 L388.35 462.04 L388.85 462.13 L389.36 462.22 L389.86 462.31 L390.37 462.4 L390.88 462.5 L391.38 462.59 L391.89 462.69 L392.39 462.79 L392.9 462.9 L393.41 463.01 L393.91 463.11 L394.42 463.23 L394.92 463.34 L395.43 463.45 L395.93 463.57 L396.44 463.69 L396.95 463.81 L397.45 463.94 L397.96 464.06 L398.46 464.19 L398.97 464.32 L399.47 464.45 L399.98 464.58 L400.49 464.72 L400.99 464.86 L401.5 464.99 L402 465.14 L402.51 465.28 L403.01 465.42 L403.52 465.57 L404.03 465.71 L404.53 465.86 L405.04 466.01 L405.54 466.16 L406.05 466.32 L406.55 466.47 L407.06 466.63 L407.57 466.79 L408.07 466.94 L408.58 467.1 L409.08 467.26 L409.59 467.43 L410.1 467.59 L410.6 467.75 L411.11 467.92 L411.61 468.09 L412.12 468.25 L412.62 468.42 L413.13 468.59 L413.64 468.76 L414.14 468.93 L414.65 469.1 L415.15 469.28 L415.66 469.45 L416.16 469.62 L416.67 469.8 L417.18 469.97 L417.68 470.15 L418.19 470.32 L418.69 470.5 L419.2 470.68 L419.7 470.85 L420.21 471.03 L420.72 471.21 L421.22 471.38 L421.73 471.56 L422.23 471.74 L422.74 471.92 L423.25 472.1 L423.75 472.27 L424.26 472.45 L424.76 472.63 L425.27 472.81 L425.77 472.98 L426.28 473.16 L426.79 473.34 L427.29 473.52 L427.8 473.69 L428.3 473.87 L428.81 474.04 L429.31 474.22 L429.82 474.39 L430.33 474.56 L430.83 474.74 L431.34 474.91 L431.84 475.08 L432.35 475.25 L432.85 475.42 L433.36 475.59 L433.87 475.76 L434.37 475.93 L434.88 476.09 L435.38 476.26 L435.89 476.42 L436.39 476.59 L436.9 476.75 L437.41 476.91 L437.91 477.07 L438.42 477.23 L438.92 477.38 L439.43 477.54 L439.94 477.69 L440.44 477.85 L440.95 478 L441.45 478.15 L441.96 478.3 L442.46 478.44 L442.97 478.59 L443.48 478.73 L443.98 478.88 L444.49 479.02 L444.99 479.15 L445.5 479.29 L446 479.43 L446.51 479.56 L447.02 479.69 L447.52 479.82 L448.03 479.95 L448.53 480.07 L449.04 480.2 L449.54 480.32 L450.05 480.44 L450.56 480.56 L451.06 480.67 L451.57 480.78 L452.07 480.89 L452.58 481 L453.09 481.11 L453.59 481.21 L454.1 481.32 L454.6 481.41 L455.11 481.51 L455.61 481.61 L456.12 481.7 L456.63 481.79 L457.13 481.88 L457.64 481.96 L458.14 482.05 L458.65 482.13 L459.15 482.2 L459.66 482.28 L460.17 482.35 L460.67 482.42 L461.18 482.49 L461.68 482.55 L462.19 482.62 L462.69 482.68 L463.2 482.73 L463.71 482.79 L464.21 482.84 L464.72 482.89 L465.22 482.93 L465.73 482.98 L466.24 483.02 L466.74 483.06 L467.25 483.09 L467.75 483.12 L468.26 483.15 L468.76 483.18 L469.27 483.21 L469.78 483.23 L470.28 483.25 L470.79 483.26 L471.29 483.28 L471.8 483.29 L472.3 483.29 L472.81 483.3 L473.32 483.3 L473.82 483.3 L474.33 483.3 L474.83 483.29 L475.34 483.28 L475.84 483.27 L476.35 483.25 L476.86 483.24 L477.36 483.22 L477.87 483.19 L478.37 483.17 L478.88 483.14 L479.38 483.11 L479.89 483.07 L480.4 483.03 L480.9 482.99 L481.41 482.95 L481.91 482.91 L482.42 482.86 L482.93 482.81 L483.43 482.76 L483.94 482.7 L484.44 482.64 L484.95 482.58 L485.45 482.52 L485.96 482.45 L486.47 482.38 L486.97 482.31 L487.48 482.24 L487.98 482.16 L488.49 482.08 L488.99 482 L489.5 481.91 L490.01 481.83 L490.51 481.74 L491.02 481.65 L491.52 481.55 L492.03 481.46 L492.53 481.36 L493.04 481.26 L493.55 481.15 L494.05 481.05 L494.56 480.94 L495.06 480.83 L495.57 480.72 L496.08 480.6 L496.58 480.49 L497.09 480.37 L497.59 480.25 L498.1 480.13 L498.6 480 L499.11 479.87 L499.62 479.75 L500.12 479.62 L500.63 479.48 L501.13 479.35 L501.64 479.21 L502.14 479.07 L502.65 478.93 L503.16 478.79 L503.66 478.65 L504.17 478.51 L504.67 478.36 L505.18 478.21 L505.68 478.06 L506.19 477.91 L506.7 477.76 L507.2 477.61 L507.71 477.45 L508.21 477.29 L508.72 477.14 L509.23 476.98 L509.73 476.82 L510.24 476.65 L510.74 476.49 L511.25 476.33 L511.75 476.16 L512.26 476 L512.77 475.83 L513.27 475.66 L513.78 475.49 L514.28 475.32 L514.79 475.15 L515.29 474.98 L515.8 474.81" fill="none" stroke="#55b348" stroke-width="1.3" stroke-linejoin="round" />
<path d="M314 465.63 L314.51 465.85 L315.01 466.08 L315.52 466.32 L316.02 466.55 L316.53 466.79 L317.03 467.04 L317.54 467.29 L318.05 467.54 L318.55 467.8 L319.06 468.06 L319.56 468.32 L320.07 468.59 L320.57 468.86 L321.08 469.14 L321.59 469.42 L322.09 469.7 L322.6 469.99 L323.1 470.28 L323.61 470.57 L324.12 470.86 L324.62 471.16 L325.13 471.46 L325.63 471.77 L326.14 472.08 L326.64 472.39 L327.15 472.7 L327.66 473.02 L328.16 473.33 L328.67 473.65 L329.17 473.98 L329.68 474.3 L330.18 474.63 L330.69 474.96 L331.2 475.29 L331.7 475.63 L332.21 475.96 L332.71 476.3 L333.22 476.64 L333.72 476.98 L334.23 477.32 L334.74 477.67 L335.24 478.01 L335.75 478.36 L336.25 478.71 L336.76 479.05 L337.27 479.4 L337.77 479.76 L338.28 480.11 L338.78 480.46 L339.29 480.81 L339.79 481.17 L340.3 481.52 L340.81 481.88 L341.31 482.23 L341.82 482.59 L342.32 482.94 L342.83 483.3 L343.33 483.66 L343.84 484.01 L344.35 484.37 L344.85 484.72 L345.36 485.08 L345.86 485.43 L346.37 485.79 L346.87 486.14 L347.38 486.49 L347.89 486.84 L348.39 487.2 L348.9 487.55 L349.4 487.89 L349.91 488.24 L350.42 488.59 L350.92 488.93 L351.43 489.28 L351.93 489.62 L352.44 489.96 L352.94 490.3 L353.45 490.64 L353.96 490.97 L354.46 491.31 L354.97 491.64 L355.47 491.97 L355.98 492.3 L356.48 492.62 L356.99 492.95 L357.5 493.27 L358 493.58 L358.51 493.9 L359.01 494.21 L359.52 494.52 L360.02 494.83 L360.53 495.14 L361.04 495.44 L361.54 495.74 L362.05 496.03 L362.55 496.32 L363.06 496.61 L363.56 496.9 L364.07 497.18 L364.58 497.46 L365.08 497.74 L365.59 498.01 L366.09 498.28 L366.6 498.54 L367.11 498.8 L367.61 499.06 L368.12 499.31 L368.62 499.56 L369.13 499.81 L369.63 500.05 L370.14 500.28 L370.65 500.52 L371.15 500.75 L371.66 500.97 L372.16 501.19 L372.67 501.4 L373.17 501.62 L373.68 501.82 L374.19 502.02 L374.69 502.22 L375.2 502.41 L375.7 502.6 L376.21 502.78 L376.71 502.96 L377.22 503.13 L377.73 503.3 L378.23 503.46 L378.74 503.62 L379.24 503.78 L379.75 503.92 L380.26 504.07 L380.76 504.21 L381.27 504.34 L381.77 504.47 L382.28 504.59 L382.78 504.7 L383.29 504.82 L383.8 504.92 L384.3 505.02 L384.81 505.12 L385.31 505.21 L385.82 505.29 L386.32 505.37 L386.83 505.45 L387.34 505.51 L387.84 505.58 L388.35 505.63 L388.85 505.69 L389.36 505.73 L389.86 505.77 L390.37 505.81 L390.88 505.84 L391.38 505.86 L391.89 505.88 L392.39 505.89 L392.9 505.9 L393.41 505.9 L393.91 505.9 L394.42 505.89 L394.92 505.87 L395.43 505.85 L395.93 505.82 L396.44 505.79 L396.95 505.75 L397.45 505.71 L397.96 505.66 L398.46 505.61 L398.97 505.55 L399.47 505.48 L399.98 505.41 L400.49 505.33 L400.99 505.25 L401.5 505.16 L402 505.07 L402.51 504.97 L403.01 504.87 L403.52 504.76 L404.03 504.65 L404.53 504.53 L405.04 504.4 L405.54 504.27 L406.05 504.14 L406.55 504 L407.06 503.85 L407.57 503.7 L408.07 503.54 L408.58 503.38 L409.08 503.22 L409.59 503.05 L410.1 502.87 L410.6 502.69 L411.11 502.51 L411.61 502.32 L412.12 502.12 L412.62 501.92 L413.13 501.72 L413.64 501.51 L414.14 501.3 L414.65 501.08 L415.15 500.86 L415.66 500.63 L416.16 500.4 L416.67 500.17 L417.18 499.93 L417.68 499.68 L418.19 499.44 L418.69 499.19 L419.2 498.93 L419.7 498.67 L420.21 498.41 L420.72 498.14 L421.22 497.87 L421.73 497.6 L422.23 497.32 L422.74 497.04 L423.25 496.76 L423.75 496.47 L424.26 496.18 L424.76 495.88 L425.27 495.59 L425.77 495.29 L426.28 494.98 L426.79 494.68 L427.29 494.37 L427.8 494.06 L428.3 493.74 L428.81 493.43 L429.31 493.11 L429.82 492.78 L430.33 492.46 L430.83 492.13 L431.34 491.8 L431.84 491.47 L432.35 491.14 L432.85 490.81 L433.36 490.47 L433.87 490.13 L434.37 489.79 L434.88 489.45 L435.38 489.11 L435.89 488.76 L436.39 488.42 L436.9 488.07 L437.41 487.72 L437.91 487.37 L438.42 487.02 L438.92 486.67 L439.43 486.32 L439.94 485.96 L440.44 485.61 L440.95 485.25 L441.45 484.9 L441.96 484.54 L442.46 484.19 L442.97 483.83 L443.48 483.48 L443.98 483.12 L444.49 482.77 L444.99 482.41 L445.5 482.06 L446 481.7 L446.51 481.35 L447.02 480.99 L447.52 480.64 L448.03 480.28 L448.53 479.93 L449.04 479.58 L449.54 479.23 L450.05 478.88 L450.56 478.53 L451.06 478.18 L451.57 477.84 L452.07 477.49 L452.58 477.15 L453.09 476.81 L453.59 476.47 L454.1 476.13 L454.6 475.79 L455.11 475.46 L455.61 475.13 L456.12 474.8 L456.63 474.47 L457.13 474.14 L457.64 473.82 L458.14 473.49 L458.65 473.17 L459.15 472.86 L459.66 472.54 L460.17 472.23 L460.67 471.92 L461.18 471.62 L461.68 471.31 L462.19 471.01 L462.69 470.72 L463.2 470.42 L463.71 470.13 L464.21 469.84 L464.72 469.56 L465.22 469.28 L465.73 469 L466.24 468.73 L466.74 468.46 L467.25 468.19 L467.75 467.93 L468.26 467.67 L468.76 467.41 L469.27 467.16 L469.78 466.92 L470.28 466.67 L470.79 466.43 L471.29 466.2 L471.8 465.97 L472.3 465.74 L472.81 465.52 L473.32 465.3 L473.82 465.09 L474.33 464.88 L474.83 464.68 L475.34 464.48 L475.84 464.28 L476.35 464.09 L476.86 463.91 L477.36 463.73 L477.87 463.55 L478.37 463.38 L478.88 463.22 L479.38 463.06 L479.89 462.9 L480.4 462.75 L480.9 462.6 L481.41 462.46 L481.91 462.33 L482.42 462.2 L482.93 462.07 L483.43 461.95 L483.94 461.84 L484.44 461.73 L484.95 461.63 L485.45 461.53 L485.96 461.44 L486.47 461.35 L486.97 461.27 L487.48 461.19 L487.98 461.12 L488.49 461.05 L488.99 460.99 L489.5 460.94 L490.01 460.89 L490.51 460.85 L491.02 460.81 L491.52 460.78 L492.03 460.75 L492.53 460.73 L493.04 460.71 L493.55 460.7 L494.05 460.7 L494.56 460.7 L495.06 460.71 L495.57 460.72 L496.08 460.74 L496.58 460.76 L497.09 460.79 L497.59 460.83 L498.1 460.87 L498.6 460.91 L499.11 460.97 L499.62 461.02 L500.12 461.09 L500.63 461.15 L501.13 461.23 L501.64 461.31 L502.14 461.39 L502.65 461.48 L503.16 461.58 L503.66 461.68 L504.17 461.78 L504.67 461.9 L505.18 462.01 L505.68 462.13 L506.19 462.26 L506.7 462.39 L507.2 462.53 L507.71 462.68 L508.21 462.82 L508.72 462.98 L509.23 463.14 L509.73 463.3 L510.24 463.47 L510.74 463.64 L511.25 463.82 L511.75 464 L512.26 464.19 L512.77 464.38 L513.27 464.58 L513.78 464.78 L514.28 464.98 L514.79 465.2 L515.29 465.41 L515.8 465.63" fill="none" stroke="#3d7fc6" stroke-width="1.3" stroke-linejoin="round" />
<path d="M314 476.66 L314.51 476.61 L315.01 476.57 L315.52 476.53 L316.02 476.49 L316.53 476.46 L317.03 476.44 L317.54 476.42 L318.05 476.41 L318.55 476.4 L319.06 476.39 L319.56 476.4 L320.07 476.4 L320.57 476.42 L321.08 476.44 L321.59 476.46 L322.09 476.5 L322.6 476.53 L323.1 476.58 L323.61 476.63 L324.12 476.69 L324.62 476.75 L325.13 476.82 L325.63 476.9 L326.14 476.98 L326.64 477.07 L327.15 477.17 L327.66 477.27 L328.16 477.38 L328.67 477.49 L329.17 477.62 L329.68 477.75 L330.18 477.88 L330.69 478.02 L331.2 478.17 L331.7 478.33 L332.21 478.49 L332.71 478.66 L333.22 478.84 L333.72 479.02 L334.23 479.21 L334.74 479.4 L335.24 479.6 L335.75 479.81 L336.25 480.02 L336.76 480.24 L337.27 480.47 L337.77 480.7 L338.28 480.93 L338.78 481.17 L339.29 481.42 L339.79 481.68 L340.3 481.93 L340.81 482.2 L341.31 482.47 L341.82 482.74 L342.32 483.02 L342.83 483.3 L343.33 483.59 L343.84 483.88 L344.35 484.17 L344.85 484.47 L345.36 484.78 L345.86 485.09 L346.37 485.4 L346.87 485.71 L347.38 486.03 L347.89 486.35 L348.39 486.67 L348.9 487 L349.4 487.32 L349.91 487.65 L350.42 487.99 L350.92 488.32 L351.43 488.66 L351.93 488.99 L352.44 489.33 L352.94 489.67 L353.45 490.01 L353.96 490.35 L354.46 490.69 L354.97 491.03 L355.47 491.37 L355.98 491.71 L356.48 492.05 L356.99 492.39 L357.5 492.73 L358 493.07 L358.51 493.4 L359.01 493.74 L359.52 494.07 L360.02 494.4 L360.53 494.73 L361.04 495.05 L361.54 495.38 L362.05 495.7 L362.55 496.01 L363.06 496.33 L363.56 496.64 L364.07 496.94 L364.58 497.24 L365.08 497.54 L365.59 497.84 L366.09 498.13 L366.6 498.41 L367.11 498.69 L367.61 498.97 L368.12 499.24 L368.62 499.5 L369.13 499.76 L369.63 500.01 L370.14 500.26 L370.65 500.5 L371.15 500.74 L371.66 500.97 L372.16 501.19 L372.67 501.4 L373.17 501.61 L373.68 501.82 L374.19 502.01 L374.69 502.2 L375.2 502.38 L375.7 502.55 L376.21 502.72 L376.71 502.88 L377.22 503.03 L377.73 503.17 L378.23 503.31 L378.74 503.43 L379.24 503.55 L379.75 503.66 L380.26 503.77 L380.76 503.86 L381.27 503.95 L381.77 504.03 L382.28 504.1 L382.78 504.16 L383.29 504.22 L383.8 504.26 L384.3 504.3 L384.81 504.33 L385.31 504.35 L385.82 504.36 L386.32 504.37 L386.83 504.37 L387.34 504.35 L387.84 504.33 L388.35 504.31 L388.85 504.27 L389.36 504.23 L389.86 504.17 L390.37 504.11 L390.88 504.05 L391.38 503.97 L391.89 503.89 L392.39 503.8 L392.9 503.7 L393.41 503.59 L393.91 503.48 L394.42 503.36 L394.92 503.24 L395.43 503.1 L395.93 502.96 L396.44 502.81 L396.95 502.66 L397.45 502.5 L397.96 502.33 L398.46 502.16 L398.97 501.98 L399.47 501.8 L399.98 501.61 L400.49 501.41 L400.99 501.21 L401.5 501.01 L402 500.8 L402.51 500.58 L403.01 500.36 L403.52 500.14 L404.03 499.91 L404.53 499.68 L405.04 499.44 L405.54 499.2 L406.05 498.96 L406.55 498.71 L407.06 498.46 L407.57 498.21 L408.07 497.95 L408.58 497.69 L409.08 497.43 L409.59 497.17 L410.1 496.91 L410.6 496.64 L411.11 496.37 L411.61 496.1 L412.12 495.83 L412.62 495.56 L413.13 495.29 L413.64 495.01 L414.14 494.74 L414.65 494.47 L415.15 494.2 L415.66 493.92 L416.16 493.65 L416.67 493.38 L417.18 493.11 L417.68 492.84 L418.19 492.57 L418.69 492.3 L419.2 492.03 L419.7 491.77 L420.21 491.5 L420.72 491.24 L421.22 490.98 L421.73 490.73 L422.23 490.47 L422.74 490.22 L423.25 489.97 L423.75 489.72 L424.26 489.48 L424.76 489.24 L425.27 489 L425.77 488.77 L426.28 488.54 L426.79 488.31 L427.29 488.09 L427.8 487.87 L428.3 487.66 L428.81 487.45 L429.31 487.24 L429.82 487.04 L430.33 486.84 L430.83 486.65 L431.34 486.46 L431.84 486.27 L432.35 486.09 L432.85 485.92 L433.36 485.75 L433.87 485.58 L434.37 485.42 L434.88 485.26 L435.38 485.11 L435.89 484.96 L436.39 484.82 L436.9 484.68 L437.41 484.55 L437.91 484.42 L438.42 484.3 L438.92 484.18 L439.43 484.07 L439.94 483.96 L440.44 483.86 L440.95 483.76 L441.45 483.66 L441.96 483.58 L442.46 483.49 L442.97 483.41 L443.48 483.34 L443.98 483.27 L444.49 483.2 L444.99 483.14 L445.5 483.08 L446 483.03 L446.51 482.98 L447.02 482.93 L447.52 482.89 L448.03 482.85 L448.53 482.82 L449.04 482.79 L449.54 482.76 L450.05 482.74 L450.56 482.72 L451.06 482.7 L451.57 482.69 L452.07 482.68 L452.58 482.67 L453.09 482.67 L453.59 482.67 L454.1 482.67 L454.6 482.67 L455.11 482.68 L455.61 482.69 L456.12 482.7 L456.63 482.71 L457.13 482.72 L457.64 482.74 L458.14 482.76 L458.65 482.77 L459.15 482.79 L459.66 482.81 L460.17 482.84 L460.67 482.86 L461.18 482.88 L461.68 482.9 L462.19 482.93 L462.69 482.95 L463.2 482.98 L463.71 483 L464.21 483.03 L464.72 483.05 L465.22 483.07 L465.73 483.1 L466.24 483.12 L466.74 483.14 L467.25 483.16 L467.75 483.18 L468.26 483.2 L468.76 483.22 L469.27 483.23 L469.78 483.25 L470.28 483.26 L470.79 483.27 L471.29 483.28 L471.8 483.29 L472.3 483.29 L472.81 483.3 L473.32 483.3 L473.82 483.3 L474.33 483.3 L474.83 483.29 L475.34 483.28 L475.84 483.27 L476.35 483.26 L476.86 483.24 L477.36 483.23 L477.87 483.21 L478.37 483.18 L478.88 483.16 L479.38 483.13 L479.89 483.09 L480.4 483.06 L480.9 483.02 L481.41 482.98 L481.91 482.94 L482.42 482.89 L482.93 482.84 L483.43 482.79 L483.94 482.73 L484.44 482.67 L484.95 482.61 L485.45 482.55 L485.96 482.48 L486.47 482.41 L486.97 482.33 L487.48 482.26 L487.98 482.18 L488.49 482.1 L488.99 482.01 L489.5 481.93 L490.01 481.84 L490.51 481.75 L491.02 481.65 L491.52 481.56 L492.03 481.46 L492.53 481.36 L493.04 481.26 L493.55 481.15 L494.05 481.05 L494.56 480.94 L495.06 480.83 L495.57 480.72 L496.08 480.61 L496.58 480.5 L497.09 480.38 L497.59 480.27 L498.1 480.15 L498.6 480.03 L499.11 479.91 L499.62 479.8 L500.12 479.68 L500.63 479.56 L501.13 479.44 L501.64 479.32 L502.14 479.2 L502.65 479.09 L503.16 478.97 L503.66 478.85 L504.17 478.74 L504.67 478.62 L505.18 478.51 L505.68 478.39 L506.19 478.28 L506.7 478.17 L507.2 478.07 L507.71 477.96 L508.21 477.86 L508.72 477.76 L509.23 477.66 L509.73 477.56 L510.24 477.47 L510.74 477.38 L511.25 477.29 L511.75 477.21 L512.26 477.12 L512.77 477.05 L513.27 476.97 L513.78 476.9 L514.28 476.84 L514.79 476.77 L515.29 476.72 L515.8 476.66" fill="none" stroke="#e3262b" stroke-width="1.3" stroke-linejoin="round" />
<line x1="317.1" y1="483.3" x2="515.8" y2="483.3" stroke="#505050" stroke-width="1.1" stroke-dasharray="1.5 2.35"/>
<line x1="314" y1="460.6" x2="314" y2="506.6" stroke="#000" stroke-width="1.4" />
<line x1="515.8" y1="460.6" x2="515.8" y2="506.6" stroke="#000" stroke-width="1.4" />
<line x1="314" y1="483.3" x2="318.6" y2="483.3" stroke="#000" stroke-width="1.4" />
<line x1="511.2" y1="483.3" x2="515.8" y2="483.3" stroke="#000" stroke-width="1.4" />
<text x="309" y="488.9" font-size="14" text-anchor="end" >0</text>
<line x1="314.5" y1="419.3" x2="314.5" y2="506.6" stroke="#737373" stroke-width="1.2" stroke-dasharray="5 5.3"/>
<line x1="342.5" y1="419.3" x2="342.5" y2="506.6" stroke="#737373" stroke-width="1.2" stroke-dasharray="5 5.3"/>
<line x1="372.5" y1="419.3" x2="372.5" y2="506.6" stroke="#737373" stroke-width="1.2" stroke-dasharray="5 5.3"/>
<line x1="314" y1="437.5" x2="339.53" y2="437.5" stroke="#222" stroke-width="1.3" />
<path d="M342.83 437.5 L339.03 435.7 L339.03 439.3 Z" fill="#111"/>
<line x1="314" y1="452.8" x2="369.22" y2="452.8" stroke="#383838" stroke-width="1.3" />
<path d="M372.52 452.8 L368.72 451 L368.72 454.6 Z" fill="#111"/>
<path d="M319 422.9 Q320.2 421.7 322 421.8 L324.6 421.7 M322.2 422 Q320.1 425.8 320.4 427.5 Q320.8 429.2 323 428.2" fill="none" stroke="#000" stroke-width="1.25" stroke-linecap="round"/>
<text x="323.8" y="431.7" font-size="11.5">pol</text>
<path d="M376.22 448.9 Q377.42 447.7 379.22 447.8 L381.82 447.7 M379.42 448 Q377.32 451.8 377.62 453.5 Q378.02 455.2 380.22 454.2" fill="none" stroke="#000" stroke-width="1.25" stroke-linecap="round"/>
<text x="381.52" y="457.2" font-size="11.5">mot</text>
<text x="418.1" y="525.1" font-size="16.4" text-anchor="middle" >Minutes</text>
</svg></body></html>
